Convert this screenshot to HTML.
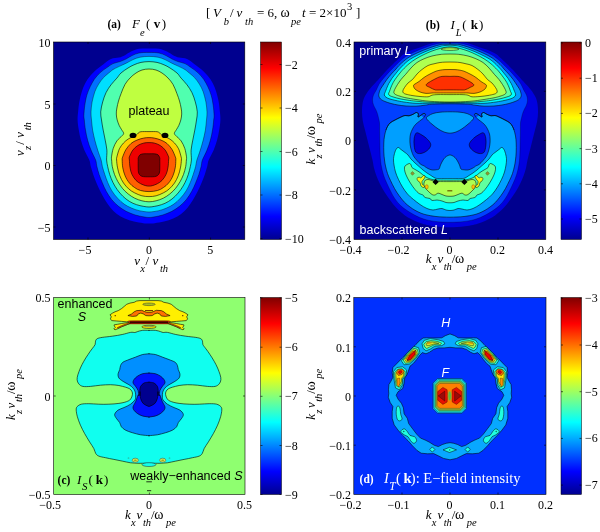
<!DOCTYPE html>
<html><head><meta charset="utf-8"><title>Figure</title>
<style>html,body{margin:0;padding:0;background:#fff}svg{display:block}text{white-space:pre}</style>
</head><body>
<svg width="600" height="532" viewBox="0 0 600 532">
<defs>
<linearGradient id="jet" x1="0" y1="1" x2="0" y2="0">
<stop offset="0" stop-color="#00008F"/>
<stop offset="0.117" stop-color="#0000FF"/>
<stop offset="0.367" stop-color="#00FFFF"/>
<stop offset="0.617" stop-color="#FFFF00"/>
<stop offset="0.867" stop-color="#FF0000"/>
<stop offset="1" stop-color="#800000"/>
</linearGradient>
</defs>
<rect width="600" height="532" fill="#fff"/>
<clipPath id="clipA"><rect x="53.5" y="42" width="191.3" height="197.5"/></clipPath>
<rect x="53.5" y="42" width="191.3" height="197.5" fill="#00008F"/>
<g clip-path="url(#clipA)">
<path d="M149 48.4C145.7 48.4 142 48.3 139 48.8C136 49.3 133.3 50.5 131 51.6C128.7 52.7 127 54.2 125 55.2C123 56.2 121.3 57 119 57.6C116.7 58.2 113.6 57.9 111 59C108.4 60.1 105.9 62.5 103.5 64.2C101.1 66 99.1 67.3 96.8 69.3C94.6 71.2 92.1 73.6 90.1 76C88.2 78.3 86.5 80.8 85.1 83.5C83.7 86.1 82.7 88.8 81.8 91.8C80.8 94.9 79.9 98.5 79.3 101.9C78.7 105.2 78.4 108.9 78.1 111.9C77.8 114.9 77.5 117 77.6 120C77.7 123.1 78.2 126.7 78.8 130.1C79.3 133.4 80 136.8 80.9 140.1C81.9 143.4 82.9 146.8 84.3 150.1C85.7 153.5 88.2 157.3 89.3 160C90.4 162.7 90.2 164.2 90.8 166.6C91.5 169 92.3 171.7 93.2 174.5C94.2 177.2 95.3 180.2 96.5 183C97.7 185.9 99 188.7 100.4 191.6C101.9 194.4 103.4 197.5 105.1 200.1C106.7 202.8 108.3 205.1 110.3 207.4C112.3 209.7 114.5 212.1 116.9 213.9C119.3 215.8 121.9 217.3 124.8 218.6C127.6 219.8 130.9 220.8 134 221.6C137.1 222.3 140.7 222.8 143.2 223.2C145.7 223.5 147.1 223.6 149 223.6C150.9 223.6 152.3 223.5 154.8 223.2C157.3 222.8 160.9 222.3 164 221.6C167.1 220.8 170.4 219.8 173.2 218.6C176.1 217.3 178.7 215.8 181.1 213.9C183.5 212.1 185.7 209.7 187.7 207.4C189.7 205.1 191.3 202.8 192.9 200.1C194.6 197.5 196.1 194.4 197.6 191.6C199 188.7 200.3 185.9 201.5 183C202.7 180.2 203.8 177.2 204.8 174.5C205.7 171.7 206.5 169 207.2 166.6C207.8 164.2 207.6 162.7 208.7 160C209.8 157.3 212.3 153.5 213.7 150.1C215.1 146.8 216.1 143.4 217.1 140.1C218 136.8 218.7 133.4 219.2 130.1C219.8 126.7 220.3 123.1 220.4 120C220.5 117 220.2 114.9 219.9 111.9C219.6 108.9 219.3 105.2 218.7 101.9C218.1 98.5 217.2 94.9 216.2 91.8C215.3 88.8 214.3 86.1 212.9 83.5C211.5 80.8 209.8 78.3 207.9 76C205.9 73.6 203.4 71.2 201.2 69.3C198.9 67.3 196.9 66 194.5 64.2C192.1 62.5 189.6 60.1 187 59C184.4 57.9 181.3 58.2 179 57.6C176.7 57 175 56.2 173 55.2C171 54.2 169.3 52.7 167 51.6C164.7 50.5 162 49.3 159 48.8C156 48.3 152.3 48.4 149 48.4Z" fill="#0000FF"/>
<path d="M149 52.4C145.7 52.4 141.8 52.5 139 53C136.2 53.5 134.2 54.6 132 55.6C129.8 56.6 128 58 126 59C124 60 122.2 60.8 120 61.6C117.8 62.4 115.2 62.6 113 63.6C110.8 64.6 109 66.1 106.9 67.6C104.7 69.1 102.3 70.7 100.2 72.6C98.1 74.6 96 76.9 94.3 79.3C92.6 81.7 91.4 84.2 90.1 86.8C88.9 89.5 87.7 92.1 86.8 95.2C85.9 98.2 85.3 101.9 84.8 105.2C84.3 108.6 84 112.8 83.9 115.3C83.9 117.7 84 117.6 84.3 120C84.5 122.5 84.9 126.7 85.5 130.1C86 133.4 86.7 136.8 87.6 140.1C88.5 143.4 89.6 146.8 91 150.1C92.3 153.5 94.6 157.3 95.6 160C96.6 162.7 96.3 164.2 96.9 166.6C97.5 169 98.2 171.7 99.1 174.5C100.1 177.2 101.2 180.2 102.4 183C103.6 185.9 104.8 188.8 106.4 191.6C107.9 194.3 109.7 197.1 111.6 199.5C113.6 201.9 115.8 204.1 118.2 206.1C120.6 208 123.3 209.8 126.1 211.3C129 212.8 132.5 214.1 135.3 215C138.2 215.9 140.9 216.4 143.2 216.8C145.5 217.3 147.1 217.5 149 217.5C150.9 217.5 152.5 217.3 154.8 216.8C157.1 216.4 159.8 215.9 162.7 215C165.5 214.1 169 212.8 171.9 211.3C174.7 209.8 177.4 208 179.8 206.1C182.2 204.1 184.4 201.9 186.4 199.5C188.3 197.1 190.1 194.3 191.6 191.6C193.2 188.8 194.4 185.9 195.6 183C196.8 180.2 197.9 177.2 198.9 174.5C199.8 171.7 200.5 169 201.1 166.6C201.7 164.2 201.4 162.7 202.4 160C203.4 157.3 205.7 153.5 207 150.1C208.4 146.8 209.5 143.4 210.4 140.1C211.3 136.8 212 133.4 212.5 130.1C213.1 126.7 213.5 122.5 213.7 120C214 117.6 214.1 117.7 214.1 115.3C214 112.8 213.7 108.6 213.2 105.2C212.7 101.9 212.1 98.2 211.2 95.2C210.3 92.1 209.1 89.5 207.9 86.8C206.6 84.2 205.4 81.7 203.7 79.3C202 76.9 199.9 74.6 197.8 72.6C195.7 70.7 193.3 69.1 191.1 67.6C189 66.1 187.2 64.6 185 63.6C182.8 62.6 180.2 62.4 178 61.6C175.8 60.8 174 60 172 59C170 58 168.2 56.6 166 55.6C163.8 54.6 161.8 53.5 159 53C156.2 52.5 152.3 52.4 149 52.4Z" fill="#0070FF" stroke="#000" stroke-width="0.5" stroke-opacity="0.75"/>
<path d="M149 56.4C146 56.4 142.7 56.7 140 57.2C137.3 57.7 135.2 58.7 133 59.6C130.8 60.5 129 61.8 127 62.8C125 63.8 123.2 64.6 121 65.6C118.8 66.6 115.8 68 114 69C112.2 70 111.9 70.3 110.2 71.8C108.5 73.2 105.5 75.5 103.5 77.6C101.6 79.7 99.9 81.9 98.5 84.3C97 86.7 95.9 88.9 94.8 91.8C93.8 94.8 92.8 98.5 92.1 101.9C91.5 105.2 91.1 108.9 91 111.9C90.9 114.9 91.2 117 91.5 120C91.8 123.1 92.1 126.7 92.6 130.1C93.2 133.4 94 136.8 94.8 140.1C95.7 143.4 96.6 146.8 97.7 150.1C98.7 153.5 100.3 157.3 101.1 160C101.9 162.7 101.8 164.2 102.4 166.6C103 169 103.9 171.8 104.8 174.5C105.7 177.1 106.5 179.6 107.7 182.4C108.9 185.1 110.2 188.3 111.9 190.9C113.5 193.6 115.5 196 117.6 198.2C119.6 200.4 121.8 202.4 124.1 204.1C126.4 205.7 128.8 206.9 131.4 208C133.9 209.1 136.3 210 139.3 210.7C142.2 211.3 145.8 212 149 212C152.2 212 155.8 211.3 158.7 210.7C161.7 210 164.1 209.1 166.6 208C169.2 206.9 171.6 205.7 173.9 204.1C176.2 202.4 178.4 200.4 180.4 198.2C182.5 196 184.5 193.6 186.1 190.9C187.8 188.3 189.1 185.1 190.3 182.4C191.5 179.6 192.3 177.1 193.2 174.5C194.1 171.8 195 169 195.6 166.6C196.2 164.2 196.1 162.7 196.9 160C197.7 157.3 199.3 153.5 200.3 150.1C201.4 146.8 202.3 143.4 203.2 140.1C204 136.8 204.8 133.4 205.4 130.1C205.9 126.7 206.2 123.1 206.5 120C206.8 117 207.1 114.9 207 111.9C206.9 108.9 206.5 105.2 205.9 101.9C205.2 98.5 204.2 94.8 203.2 91.8C202.1 88.9 201 86.7 199.5 84.3C198.1 81.9 196.4 79.7 194.5 77.6C192.5 75.5 189.5 73.2 187.8 71.8C186.1 70.3 185.8 70 184 69C182.2 68 179.2 66.6 177 65.6C174.8 64.6 173 63.8 171 62.8C169 61.8 167.2 60.5 165 59.6C162.8 58.7 160.7 57.7 158 57.2C155.3 56.7 152 56.4 149 56.4Z" fill="#00DFFF" stroke="#000" stroke-width="0.5" stroke-opacity="0.75"/>
<path d="M149 61.6C146.3 61.6 143.5 61.9 141 62.4C138.5 62.9 136.2 63.9 134 64.8C131.8 65.7 130.2 66.6 128 68C125.8 69.4 122.9 71.3 121 73C119.1 74.7 118.6 76.2 116.9 78.1C115.2 80.1 112.8 82.4 111 84.8C109.2 87.2 107.4 89.8 106 92.7C104.6 95.5 103.6 98.7 102.7 101.9C101.8 105.1 100.9 108.9 100.7 111.9C100.5 114.9 101.1 117 101.5 120C101.9 123.1 102.6 126.7 103.2 130.1C103.8 133.4 104.6 136.8 105.2 140.1C105.8 143.4 106.6 146.8 106.9 150.1C107.1 153.5 106.5 157.3 106.6 160C106.8 162.7 107.2 164.2 107.7 166.6C108.2 169 108.8 171.8 109.7 174.5C110.5 177.1 111.7 179.8 112.9 182.4C114.2 184.9 115.5 187.3 117.2 189.6C118.8 191.9 120.8 194.2 122.8 196.2C124.9 198.2 127.1 200 129.4 201.4C131.7 202.9 134.3 203.9 136.6 204.7C138.9 205.5 141.1 205.9 143.2 206.3C145.3 206.7 147.1 207 149 207C150.9 207 152.7 206.7 154.8 206.3C156.9 205.9 159.1 205.5 161.4 204.7C163.7 203.9 166.3 202.9 168.6 201.4C170.9 200 173.1 198.2 175.2 196.2C177.2 194.2 179.2 191.9 180.8 189.6C182.5 187.3 183.8 184.9 185.1 182.4C186.3 179.8 187.5 177.1 188.3 174.5C189.2 171.8 189.8 169 190.3 166.6C190.8 164.2 191.2 162.7 191.4 160C191.5 157.3 190.9 153.5 191.1 150.1C191.4 146.8 192.2 143.4 192.8 140.1C193.4 136.8 194.2 133.4 194.8 130.1C195.4 126.7 196.1 123.1 196.5 120C196.9 117 197.5 114.9 197.3 111.9C197.1 108.9 196.2 105.1 195.3 101.9C194.4 98.7 193.4 95.5 192 92.7C190.6 89.8 188.8 87.2 187 84.8C185.2 82.4 182.8 80.1 181.1 78.1C179.4 76.2 178.9 74.7 177 73C175.1 71.3 172.2 69.4 170 68C167.8 66.6 166.2 65.7 164 64.8C161.8 63.9 159.5 62.9 157 62.4C154.5 61.9 151.7 61.6 149 61.6Z" fill="#50FFAF" stroke="#000" stroke-width="0.6"/>
<path d="M149 69C146.7 69 144.2 69.3 142 70C139.8 70.7 138 71.7 136 73C134 74.3 131.8 76.1 130 78C128.2 79.9 126.5 81.8 125 84.4C123.5 87 122.2 90.7 121.1 93.5C120 96.3 119.2 98.6 118.5 101C117.8 103.4 117.3 105.8 116.9 108C116.5 110.2 116.2 112 116.3 114C116.3 116 116.7 118.1 117.2 120C117.7 121.9 118.5 123.9 119.2 125.5C119.9 127.1 120.8 128.2 121.5 129.5C122.2 130.8 123.5 132.1 123.6 133.1C123.7 134.1 123.4 134.3 122.2 135.6C121.1 136.9 118.4 138.8 116.9 140.9C115.4 143.1 114.1 145.8 113.2 148.5C112.3 151.1 111.8 154.9 111.5 156.8C111.3 158.7 111.5 158.4 111.6 160C111.8 161.6 111.8 164.2 112.3 166.6C112.8 169 113.6 172 114.5 174.5C115.5 177 116.6 179.4 117.9 181.7C119.3 184 120.7 186.2 122.4 188.3C124.1 190.3 126 192.3 128.1 193.9C130.1 195.6 132.4 197 134.7 198.2C137 199.3 139.5 200.2 141.9 200.8C144.3 201.4 146.6 201.8 149 201.8C151.4 201.8 153.7 201.4 156.1 200.8C158.5 200.2 161 199.3 163.3 198.2C165.6 197 167.9 195.6 169.9 193.9C172 192.3 173.9 190.3 175.6 188.3C177.3 186.2 178.7 184 180.1 181.7C181.4 179.4 182.5 177 183.5 174.5C184.4 172 185.2 169 185.7 166.6C186.2 164.2 186.2 161.6 186.4 160C186.5 158.4 186.7 158.7 186.5 156.8C186.2 154.9 185.7 151.1 184.8 148.5C183.9 145.8 182.6 143.1 181.1 140.9C179.6 138.8 176.9 136.9 175.8 135.6C174.6 134.3 174.3 134.1 174.4 133.1C174.5 132.1 175.8 130.8 176.5 129.5C177.2 128.2 178.1 127.1 178.8 125.5C179.5 123.9 180.3 121.9 180.8 120C181.3 118.1 181.6 116 181.7 114C181.8 112 181.5 110.2 181.1 108C180.7 105.8 180.2 103.4 179.5 101C178.8 98.6 178 96.3 176.9 93.5C175.8 90.7 174.5 87 173 84.4C171.5 81.8 169.8 79.9 168 78C166.2 76.1 164 74.3 162 73C160 71.7 158.2 70.7 156 70C153.8 69.3 151.3 69 149 69Z" fill="#BFFF40" stroke="#000" stroke-width="0.6"/>
<path d="M149 131.6C146.3 131.6 142.7 131.5 141 131.7C139.2 132 139.4 132.3 138.5 132.9C137.6 133.5 137.3 134.4 135.6 135.4C134 136.4 130.6 137.5 128.6 138.8C126.6 140 125.1 141.3 123.6 142.9C122 144.6 120.5 146.5 119.4 148.8C118.3 151.1 117.4 155 116.9 156.8C116.4 158.7 116.5 158.2 116.6 160C116.7 161.8 117 165.3 117.6 167.9C118.1 170.5 118.8 173.3 119.8 175.8C120.8 178.3 122 180.8 123.5 183C125 185.2 126.9 187.3 128.7 188.9C130.6 190.6 132.5 191.8 134.7 192.9C136.9 194 139.5 195.2 141.9 195.8C144.3 196.4 146.6 196.6 149 196.6C151.4 196.6 153.7 196.4 156.1 195.8C158.5 195.2 161.1 194 163.3 192.9C165.5 191.8 167.4 190.6 169.3 188.9C171.1 187.3 173 185.2 174.5 183C176 180.8 177.2 178.3 178.2 175.8C179.2 173.3 179.9 170.5 180.4 167.9C181 165.3 181.3 161.8 181.4 160C181.5 158.2 181.6 158.7 181.1 156.8C180.6 155 179.7 151.1 178.6 148.8C177.5 146.5 176 144.6 174.4 142.9C172.9 141.3 171.4 140 169.4 138.8C167.4 137.5 164 136.4 162.4 135.4C160.7 134.4 160.4 133.5 159.5 132.9C158.6 132.3 158.8 132 157 131.7C155.3 131.5 151.7 131.6 149 131.6Z" fill="#FFCF00" stroke="#000" stroke-width="0.6"/>
<path d="M149 137.6C147.2 137.6 145.7 137.7 143.6 138.1C141.6 138.5 139 139.2 137 140.1C134.9 141 132.9 141.9 131.1 143.4C129.3 145 127.5 147.1 126.1 149.3C124.7 151.5 123.4 155 122.7 156.8C122.1 158.6 122.1 158.2 122.2 160C122.2 161.8 122.3 165.3 122.8 167.9C123.3 170.5 124 173.3 125.1 175.8C126.1 178.3 127.8 181.1 129.4 183C131 185 132.8 186.4 134.7 187.6C136.5 188.9 138.2 189.9 140.6 190.5C143 191.2 146.2 191.6 149 191.6C151.8 191.6 155 191.2 157.4 190.5C159.8 189.9 161.5 188.9 163.3 187.6C165.2 186.4 167 185 168.6 183C170.2 181.1 171.9 178.3 172.9 175.8C174 173.3 174.7 170.5 175.2 167.9C175.7 165.3 175.8 161.8 175.8 160C175.9 158.2 175.9 158.6 175.3 156.8C174.6 155 173.3 151.5 171.9 149.3C170.5 147.1 168.7 145 166.9 143.4C165.1 141.9 163.1 141 161 140.1C159 139.2 156.4 138.5 154.4 138.1C152.3 137.7 150.8 137.6 149 137.6Z" fill="#FF6000" stroke="#000" stroke-width="0.6"/>
<path d="M149 142.6C147.2 142.6 145.5 142.6 143.6 143.1C141.8 143.6 139.6 144.3 137.8 145.5C136 146.6 134.2 148.2 132.8 150.1C131.4 152 130 155.2 129.4 156.8C128.9 158.5 129.3 158.2 129.4 160C129.5 161.8 129.6 165.5 130.1 167.9C130.5 170.3 131 172.4 132 174.5C133 176.6 134.5 178.9 136 180.4C137.4 181.9 138.9 182.8 140.6 183.7C142.2 184.6 144.4 185.3 145.8 185.7C147.2 186.1 147.9 186.1 149 186.1C150.1 186.1 150.8 186.1 152.2 185.7C153.6 185.3 155.8 184.6 157.4 183.7C159.1 182.8 160.6 181.9 162 180.4C163.5 178.9 165 176.6 166 174.5C167 172.4 167.5 170.3 167.9 167.9C168.4 165.5 168.5 161.8 168.6 160C168.7 158.2 169.1 158.5 168.6 156.8C168 155.2 166.6 152 165.2 150.1C163.8 148.2 162 146.6 160.2 145.5C158.4 144.3 156.2 143.6 154.4 143.1C152.5 142.6 150.8 142.6 149 142.6Z" fill="#EF0000" stroke="#000" stroke-width="0.6"/>
<path d="M149 153.8C147.2 153.8 145.2 153.6 143.6 153.8C142.1 154 140.9 154.2 140 154.8C139.1 155.5 138.6 156.8 138.3 157.7C138 158.5 138.2 158.3 138.2 160C138.2 161.7 138.1 165.7 138.2 167.9C138.3 170.1 138.1 171.8 138.7 173.2C139.4 174.6 140.2 175.7 141.9 176.3C143.6 176.9 146.6 176.8 149 176.8C151.4 176.8 154.4 176.9 156.1 176.3C157.8 175.7 158.6 174.6 159.3 173.2C159.9 171.8 159.7 170.1 159.8 167.9C159.9 165.7 159.8 161.7 159.8 160C159.8 158.3 160 158.5 159.7 157.7C159.4 156.8 158.9 155.5 158 154.8C157.1 154.2 155.9 154 154.4 153.8C152.8 153.6 150.8 153.8 149 153.8Z" fill="#800000" stroke="#000" stroke-width="0.6"/>
<ellipse cx="133" cy="135.4" rx="3.4" ry="2.6" fill="#000"/>
<ellipse cx="165" cy="135.4" rx="3.4" ry="2.6" fill="#000"/>
</g>
<text x="149" y="115" font-size="12.5" font-family="'Liberation Sans',Arial,sans-serif" text-anchor="middle">plateau</text>
<rect x="53.5" y="42" width="191.3" height="197.5" fill="none" stroke="#000" stroke-width="0.6"/>
<path d="M88 239.5v-2 M88 42v2M149.3 239.5v-2 M149.3 42v2M210.6 239.5v-2 M210.6 42v2M53.5 104h2 M244.8 104h-2M53.5 165.5h2 M244.8 165.5h-2M53.5 227h2 M244.8 227h-2" stroke="#000" stroke-width="0.6" fill="none"/>
<text x="50.6" y="46.8" font-size="12" font-family="'Liberation Serif','Times New Roman',serif" text-anchor="end">10</text>
<text x="50.6" y="108.8" font-size="12" font-family="'Liberation Serif','Times New Roman',serif" text-anchor="end">5</text>
<text x="50.6" y="170.3" font-size="12" font-family="'Liberation Serif','Times New Roman',serif" text-anchor="end">0</text>
<text x="50.6" y="231.8" font-size="12" font-family="'Liberation Serif','Times New Roman',serif" text-anchor="end">−5</text>
<text x="85" y="253.8" font-size="12" font-family="'Liberation Serif','Times New Roman',serif" text-anchor="middle">−5</text>
<text x="149" y="253.8" font-size="12" font-family="'Liberation Serif','Times New Roman',serif" text-anchor="middle">0</text>
<text x="210.3" y="253.8" font-size="12" font-family="'Liberation Serif','Times New Roman',serif" text-anchor="middle">5</text>
<rect x="260.5" y="42" width="21" height="197.5" fill="url(#jet)" stroke="#000" stroke-width="0.5"/>
<text x="285" y="68.5" font-size="12" font-family="'Liberation Serif','Times New Roman',serif">−2</text>
<text x="285" y="112" font-size="12" font-family="'Liberation Serif','Times New Roman',serif">−4</text>
<text x="285" y="155.5" font-size="12" font-family="'Liberation Serif','Times New Roman',serif">−6</text>
<text x="285" y="199" font-size="12" font-family="'Liberation Serif','Times New Roman',serif">−8</text>
<text x="285" y="242.5" font-size="12" font-family="'Liberation Serif','Times New Roman',serif">−10</text>
<path d="M260.5 64.5h2 M281.5 64.5h-2M260.5 108h2 M281.5 108h-2M260.5 151.5h2 M281.5 151.5h-2M260.5 195h2 M281.5 195h-2M260.5 238.5h2 M281.5 238.5h-2" stroke="#000" stroke-width="0.6" fill="none"/>
<text x="107.5" y="28" font-size="11.5" font-family="'Liberation Serif','Times New Roman',serif" font-weight="bold">(a)</text>
<text x="132" y="28" font-size="13" font-family="'Liberation Serif','Times New Roman',serif" font-style="italic">F</text>
<text x="140" y="35.8" font-size="10.5" font-family="'Liberation Serif','Times New Roman',serif" font-style="italic">e</text>
<text x="146" y="28" font-size="13" font-family="'Liberation Serif','Times New Roman',serif">(</text>
<text x="153.8" y="28" font-size="13" font-family="'Liberation Serif','Times New Roman',serif" font-weight="bold">v</text>
<text x="161.8" y="28" font-size="13" font-family="'Liberation Serif','Times New Roman',serif">)</text>
<text x="206" y="17" font-size="13" font-family="'Liberation Serif','Times New Roman',serif">[</text>
<text x="213" y="17" font-size="13" font-family="'Liberation Serif','Times New Roman',serif" font-style="italic">V</text>
<text x="223.8" y="25" font-size="10.5" font-family="'Liberation Serif','Times New Roman',serif" font-style="italic">b</text>
<text x="230" y="17" font-size="13" font-family="'Liberation Serif','Times New Roman',serif">/</text>
<text x="236.5" y="17" font-size="13" font-family="'Liberation Serif','Times New Roman',serif" font-style="italic">v</text>
<text x="245" y="25" font-size="10.5" font-family="'Liberation Serif','Times New Roman',serif" font-style="italic">th</text>
<text x="257" y="17" font-size="13" font-family="'Liberation Serif','Times New Roman',serif">= 6,</text>
<text x="280.5" y="17" font-size="14" font-family="'Liberation Serif','Times New Roman',serif">ω</text>
<text x="291" y="25" font-size="10.5" font-family="'Liberation Serif','Times New Roman',serif" font-style="italic">pe</text>
<text x="302" y="17" font-size="13" font-family="'Liberation Serif','Times New Roman',serif" font-style="italic">t</text>
<text x="309" y="17" font-size="13" font-family="'Liberation Serif','Times New Roman',serif">= 2×10</text>
<text x="347" y="10.3" font-size="10.5" font-family="'Liberation Serif','Times New Roman',serif">3</text>
<text x="356" y="17" font-size="13" font-family="'Liberation Serif','Times New Roman',serif">]</text>
<text x="134.2" y="264.7" font-size="13" font-family="'Liberation Serif','Times New Roman',serif" font-style="italic">v</text>
<text x="140.3" y="272.2" font-size="10.5" font-family="'Liberation Serif','Times New Roman',serif" font-style="italic">x</text>
<text x="145.4" y="264.7" font-size="13" font-family="'Liberation Serif','Times New Roman',serif">/</text>
<text x="152.4" y="264.7" font-size="13" font-family="'Liberation Serif','Times New Roman',serif" font-style="italic">v</text>
<text x="159.9" y="272.2" font-size="10.5" font-family="'Liberation Serif','Times New Roman',serif" font-style="italic">th</text>
<g transform="translate(23.7,156) rotate(-90)">
<text x="0" y="0" font-size="13" font-family="'Liberation Serif','Times New Roman',serif" font-style="italic">v</text>
<text x="6.1" y="7.5" font-size="10.5" font-family="'Liberation Serif','Times New Roman',serif" font-style="italic">z</text>
<text x="11.2" y="0" font-size="13" font-family="'Liberation Serif','Times New Roman',serif">/</text>
<text x="18.2" y="0" font-size="13" font-family="'Liberation Serif','Times New Roman',serif" font-style="italic">v</text>
<text x="25.7" y="7.5" font-size="10.5" font-family="'Liberation Serif','Times New Roman',serif" font-style="italic">th</text>
</g>
<clipPath id="clipB"><rect x="354" y="42" width="191.8" height="197.5"/></clipPath>
<rect x="354" y="42" width="191.8" height="197.5" fill="#00008F"/>
<g clip-path="url(#clipB)">
<path d="M450 40C447.7 40 445.3 40.3 443 40.6C440.7 40.9 438.5 41.4 436 42C433.5 42.6 430.7 43.6 428 44.5C425.3 45.4 422.7 46.6 420 47.5C417.3 48.4 414.7 48.9 412 50C409.3 51.1 406 52.8 404 54C402 55.2 401.8 55.9 400 57.5C398.2 59.1 395.5 61.6 393.3 63.7C391.1 65.8 388.9 68 386.7 70.3C384.5 72.6 382.2 75.2 380 77.7C377.8 80.2 375.1 83 373.3 85C371.5 87 370.5 88 369 90C367.5 92 365.6 94.7 364.5 97C363.4 99.3 362.9 101.5 362.5 104C362.1 106.5 361.9 109.2 362 112C362.1 114.8 362.3 118 362.8 121C363.3 124 364.2 126.8 365 130C365.8 133.2 366.7 136.7 367.5 140C368.3 143.3 369.2 146.7 370 150C370.8 153.3 371.8 157 372.5 160C373.2 163 373.3 165.3 374 168C374.7 170.7 375.5 173.3 376.5 176C377.5 178.7 378.7 181.3 380 184C381.3 186.7 382.8 189.3 384.5 192C386.2 194.7 388.1 197.4 390 200C391.9 202.6 394 205.3 396 207.5C398 209.7 400 211.3 402 213C404 214.7 405.8 216.2 408 217.5C410.2 218.8 412.8 220 415 221C417.2 222 419 222.6 421 223.3C423 224 424.7 224.5 427 225C429.3 225.5 432.3 226 435 226.3C437.7 226.6 440.5 226.8 443 227C445.5 227.2 447.7 227.2 450 227.2C452.3 227.2 454.5 227.2 457 227C459.5 226.8 462.3 226.6 465 226.3C467.7 226 470.7 225.5 473 225C475.3 224.5 477 224 479 223.3C481 222.6 482.8 222 485 221C487.2 220 489.8 218.8 492 217.5C494.2 216.2 496 214.7 498 213C500 211.3 502 209.7 504 207.5C506 205.3 508.1 202.6 510 200C511.9 197.4 513.8 194.7 515.5 192C517.2 189.3 518.7 186.7 520 184C521.3 181.3 522.5 178.7 523.5 176C524.5 173.3 525.3 170.7 526 168C526.7 165.3 526.8 163 527.5 160C528.2 157 529.2 153.3 530 150C530.8 146.7 531.7 143.3 532.5 140C533.3 136.7 534.2 133.2 535 130C535.8 126.8 536.7 124 537.2 121C537.7 118 538 114.8 538 112C538 109.2 537.9 106.5 537.5 104C537.1 101.5 536.6 99.3 535.5 97C534.4 94.7 532.5 92 531 90C529.5 88 528.5 87 526.7 85C524.9 83 522.2 80.2 520 77.7C517.8 75.2 515.5 72.6 513.3 70.3C511.1 68 508.9 65.8 506.7 63.7C504.5 61.6 501.8 59.1 500 57.5C498.2 55.9 498 55.2 496 54C494 52.8 490.7 51.1 488 50C485.3 48.9 482.7 48.4 480 47.5C477.3 46.6 474.7 45.4 472 44.5C469.3 43.6 466.5 42.6 464 42C461.5 41.4 459.3 40.9 457 40.6C454.7 40.3 452.3 40 450 40Z" fill="#0000DF"/>
<path d="M450 43C448.3 43 446.7 43 445 43C443.3 43 442.2 43 440 43.3C437.8 43.6 434.7 44.2 432 45C429.3 45.8 426.7 47 424 48C421.3 49 418.7 50 416 51.2C413.3 52.4 410.7 53.4 408 55C405.3 56.6 402.2 59.1 400 61C397.8 62.9 396.5 64.5 394.7 66.3C392.9 68.1 391.1 69.8 389.3 71.7C387.5 73.6 385.7 75.7 384 77.7C382.3 79.7 380.6 81.6 379.3 83.7C378 85.8 377 88.6 376 90.5C375 92.4 374.1 93.4 373.5 95C372.9 96.6 372.5 98.3 372.5 100C372.5 101.7 372.9 103.3 373.5 105C374.1 106.7 375.3 108.5 376 110C376.7 111.5 377.1 112.7 377.5 114C377.9 115.3 378.2 116.5 378.5 118C378.8 119.5 379.3 120.8 379.5 123C379.7 125.2 379.6 128.2 379.6 131C379.7 133.8 379.7 136.8 379.8 140C379.9 143.2 379.9 146.7 380 150C380.1 153.3 380.2 157.2 380.5 160C380.8 162.8 381 164.5 381.5 167C382 169.5 382.7 172.4 383.5 175C384.3 177.6 385.3 179.8 386.5 182.5C387.7 185.2 389.1 188.2 390.5 191C391.9 193.8 393.3 196.6 395 199C396.7 201.4 398.5 203.6 400.5 205.5C402.5 207.4 404.6 208.9 407 210.5C409.4 212.1 412.7 214.1 415 215.3C417.3 216.6 419 217.2 421 218C423 218.8 424.7 219.4 427 220C429.3 220.6 432.3 221.1 435 221.4C437.7 221.8 440.5 221.9 443 222.1C445.5 222.2 447.7 222.3 450 222.3C452.3 222.3 454.5 222.2 457 222.1C459.5 221.9 462.3 221.8 465 221.4C467.7 221.1 470.7 220.6 473 220C475.3 219.4 477 218.8 479 218C481 217.2 482.7 216.6 485 215.3C487.3 214.1 490.6 212.1 493 210.5C495.4 208.9 497.5 207.4 499.5 205.5C501.5 203.6 503.3 201.4 505 199C506.7 196.6 508.1 193.8 509.5 191C510.9 188.2 512.3 185.2 513.5 182.5C514.7 179.8 515.7 177.6 516.5 175C517.3 172.4 518 169.5 518.5 167C519 164.5 519.2 162.8 519.5 160C519.8 157.2 519.9 153.3 520 150C520.1 146.7 520.1 143.2 520.2 140C520.3 136.8 520.4 133.8 520.4 131C520.4 128.2 520.3 125.2 520.5 123C520.7 120.8 521.2 119.5 521.5 118C521.8 116.5 522.1 115.3 522.5 114C522.9 112.7 523.3 111.5 524 110C524.7 108.5 525.9 106.7 526.5 105C527.1 103.3 527.5 101.7 527.5 100C527.5 98.3 527.1 96.6 526.5 95C525.9 93.4 525 92.4 524 90.5C523 88.6 522 85.8 520.7 83.7C519.4 81.6 517.7 79.7 516 77.7C514.3 75.7 512.5 73.6 510.7 71.7C508.9 69.8 507.1 68.1 505.3 66.3C503.5 64.5 502.2 62.9 500 61C497.8 59.1 494.7 56.6 492 55C489.3 53.4 486.7 52.4 484 51.2C481.3 50 478.7 49 476 48C473.3 47 470.7 45.8 468 45C465.3 44.2 462.2 43.6 460 43.3C457.8 43 456.7 43 455 43C453.3 43 451.7 43 450 43Z" fill="#0040FF" stroke="#000" stroke-width="0.5" stroke-opacity="0.5"/>
<path d="M450 44.2C448.3 44.2 446.7 44.2 445 44.3C443.3 44.4 442.2 44.2 440 44.7C437.8 45.2 434.7 46.1 432 47C429.3 47.9 426.7 48.9 424 50C421.3 51.1 418.7 52.2 416 53.5C413.3 54.8 410.7 56 408 57.8C405.3 59.6 402 62.6 400 64.5C398 66.4 397.4 67.4 396 69C394.6 70.6 392.9 72.2 391.3 74C389.8 75.8 388.1 77.8 386.7 79.7C385.3 81.7 383.8 84 382.7 85.7C381.6 87.4 380.6 88.7 380 90C379.4 91.3 379.2 92.5 379 93.5C378.8 94.5 378.6 95.1 378.8 96C379.1 96.9 379.5 98.1 380.5 99C381.5 99.9 383.2 100.8 385 101.5C386.8 102.2 388.8 102.9 391 103.5C393.2 104.1 395.5 104.6 398 105C400.5 105.4 403 105.8 406 106C409 106.2 412.8 106.3 416 106.2C419.2 106.1 422.3 105.5 425 105.2C427.7 104.9 427.8 104.4 432 104.2C436.2 104 444 103.8 450 103.8C456 103.8 463.8 104 468 104.2C472.2 104.4 472.3 104.9 475 105.2C477.7 105.5 480.8 106.1 484 106.2C487.2 106.3 491 106.2 494 106C497 105.8 499.5 105.4 502 105C504.5 104.6 506.8 104.1 509 103.5C511.2 102.9 513.2 102.2 515 101.5C516.8 100.8 518.5 99.9 519.5 99C520.5 98.1 521 96.9 521.2 96C521.5 95.1 521.2 94.5 521 93.5C520.8 92.5 520.6 91.3 520 90C519.4 88.7 518.4 87.4 517.3 85.7C516.2 84 514.7 81.7 513.3 79.7C511.9 77.8 510.2 75.8 508.7 74C507.1 72.2 505.4 70.6 504 69C502.6 67.4 502 66.4 500 64.5C498 62.6 494.7 59.6 492 57.8C489.3 56 486.7 54.8 484 53.5C481.3 52.2 478.7 51.1 476 50C473.3 48.9 470.7 47.9 468 47C465.3 46.1 462.2 45.2 460 44.7C457.8 44.2 456.7 44.4 455 44.3C453.3 44.2 451.7 44.2 450 44.2Z" fill="#009FFF" stroke="#000" stroke-width="0.55"/>
<path d="M450 45.2C448.3 45.2 446.7 45.3 445 45.5C443.3 45.7 442.2 45.9 440 46.5C437.8 47.1 434.7 48 432 49C429.3 50 426.7 51 424 52.2C421.3 53.4 418.7 54.6 416 56C413.3 57.4 410.7 58.7 408 60.8C405.3 62.9 402 66.4 400 68.5C398 70.6 397.3 71.7 396 73.3C394.7 74.9 393.2 76.6 392 78.3C390.8 80 389.7 81.8 388.7 83.7C387.7 85.7 386.6 88.5 386 90C385.4 91.5 385.3 91.7 385 92.5C384.7 93.3 384.1 94.2 384.3 95C384.5 95.8 385.1 96.5 386 97.2C386.9 97.9 388.3 98.5 390 99C391.7 99.5 393.7 100 396 100.5C398.3 101 400.7 101.5 404 102C407.3 102.5 411.7 103.1 416 103.3C420.3 103.5 424.3 103.2 430 103.2C435.7 103.2 443.3 103 450 103C456.7 103 464.3 103.2 470 103.2C475.7 103.2 479.7 103.5 484 103.3C488.3 103.1 492.7 102.5 496 102C499.3 101.5 501.7 101 504 100.5C506.3 100 508.3 99.5 510 99C511.7 98.5 513 97.9 514 97.2C515 96.5 515.5 95.8 515.7 95C515.9 94.2 515.3 93.3 515 92.5C514.7 91.7 514.6 91.5 514 90C513.4 88.5 512.3 85.7 511.3 83.7C510.3 81.8 509.2 80 508 78.3C506.8 76.6 505.3 74.9 504 73.3C502.7 71.7 502 70.6 500 68.5C498 66.4 494.7 62.9 492 60.8C489.3 58.7 486.7 57.4 484 56C481.3 54.6 478.7 53.4 476 52.2C473.3 51 470.7 50 468 49C465.3 48 462.2 47.1 460 46.5C457.8 45.9 456.7 45.7 455 45.5C453.3 45.3 451.7 45.2 450 45.2Z" fill="#00FFFF" stroke="#000" stroke-width="0.55"/>
<path d="M450 46.8C448.3 46.8 446.7 47 445 47.3C443.3 47.6 442.2 47.9 440 48.5C437.8 49.1 434.7 50 432 51C429.3 52 426.7 53.2 424 54.5C421.3 55.8 418.5 57.2 416 58.8C413.5 60.3 411.2 62 409 63.8C406.8 65.6 404.5 68 403 69.5C401.5 71 401.1 71.7 400 73C398.9 74.3 397.8 75.8 396.7 77.3C395.6 78.8 394.3 80.5 393.3 82.3C392.3 84.1 391.3 86.5 390.7 88C390.1 89.5 389.9 90.5 389.5 91.5C389.1 92.5 388.4 93.3 388.5 94C388.6 94.7 389.1 95.3 390 95.8C390.9 96.3 392.3 96.7 394 97.2C395.7 97.7 397.7 98.3 400 98.8C402.3 99.3 405.3 99.8 408 100.2C410.7 100.6 412.3 100.9 416 101.2C419.7 101.5 424.3 102.1 430 102.3C435.7 102.5 443.3 102.5 450 102.5C456.7 102.5 464.3 102.5 470 102.3C475.7 102.1 480.3 101.5 484 101.2C487.7 100.9 489.3 100.6 492 100.2C494.7 99.8 497.7 99.3 500 98.8C502.3 98.3 504.3 97.7 506 97.2C507.7 96.7 509.1 96.3 510 95.8C510.9 95.3 511.4 94.7 511.5 94C511.6 93.3 510.9 92.5 510.5 91.5C510.1 90.5 509.9 89.5 509.3 88C508.7 86.5 507.7 84.1 506.7 82.3C505.7 80.5 504.4 78.8 503.3 77.3C502.2 75.8 501.1 74.3 500 73C498.9 71.7 498.5 71 497 69.5C495.5 68 493.2 65.6 491 63.8C488.8 62 486.5 60.3 484 58.8C481.5 57.2 478.7 55.8 476 54.5C473.3 53.2 470.7 52 468 51C465.3 50 462.2 49.1 460 48.5C457.8 47.9 456.7 47.6 455 47.3C453.3 47 451.7 46.8 450 46.8Z" fill="#60FF9F" stroke="#000" stroke-width="0.55"/>
<path d="M450 54C448.3 54 446.7 54 445 54.1C443.3 54.2 442.2 54.2 440 54.5C437.8 54.8 434.7 55.3 432 56C429.3 56.7 426.5 57.7 424 58.8C421.5 59.9 419.2 61 417 62.5C414.8 64 412.9 66 411 68C409.1 70 407.2 72.6 405.5 74.5C403.8 76.4 402.3 77.8 401 79.5C399.7 81.2 398.6 82.8 397.5 84.5C396.4 86.2 395.3 88.2 394.7 89.5C394.1 90.8 393.7 91.7 393.8 92.5C393.9 93.3 394.5 93.9 395.5 94.5C396.5 95.1 398.2 95.7 400 96.2C401.8 96.8 403.3 97.2 406 97.8C408.7 98.3 412 98.9 416 99.5C420 100.1 424.3 100.9 430 101.3C435.7 101.7 443.3 102 450 102C456.7 102 464.3 101.7 470 101.3C475.7 100.9 480 100.1 484 99.5C488 98.9 491.3 98.3 494 97.8C496.7 97.2 498.2 96.8 500 96.2C501.8 95.7 503.5 95.1 504.5 94.5C505.5 93.9 506.1 93.3 506.2 92.5C506.3 91.7 505.9 90.8 505.3 89.5C504.7 88.2 503.6 86.2 502.5 84.5C501.4 82.8 500.3 81.2 499 79.5C497.7 77.8 496.2 76.4 494.5 74.5C492.8 72.6 490.9 70 489 68C487.1 66 485.2 64 483 62.5C480.8 61 478.5 59.9 476 58.8C473.5 57.7 470.7 56.7 468 56C465.3 55.3 462.2 54.8 460 54.5C457.8 54.2 456.7 54.2 455 54.1C453.3 54 451.7 54 450 54Z" fill="#AFFF50" stroke="#000" stroke-width="0.55"/>
<path d="M450 62C448.3 62 446.7 62 445 62.1C443.3 62.2 441.8 62.2 440 62.5C438.2 62.8 436 63.3 434 63.8C432 64.3 430 64.5 428 65.5C426 66.5 423.8 68.1 422 69.5C420.2 70.9 418.6 72.3 417 74C415.4 75.7 414 78 412.5 79.5C411 81 409.3 81.7 408 83C406.7 84.3 405.4 86.2 404.5 87.5C403.6 88.8 403 90.1 402.8 91C402.6 91.9 403 92.5 403.5 93C404 93.5 404.6 93.8 406 94.2C407.4 94.6 409.7 95.1 412 95.5C414.3 95.9 417.3 96.3 420 96.5C422.7 96.7 426 97 428 96.8C430 96.6 430.3 95.6 432 95.2C433.7 94.8 435 94.7 438 94.6C441 94.5 446 94.6 450 94.6C454 94.6 459 94.5 462 94.6C465 94.7 466.3 94.8 468 95.2C469.7 95.6 470 96.6 472 96.8C474 97 477.3 96.7 480 96.5C482.7 96.3 485.7 95.9 488 95.5C490.3 95.1 492.6 94.6 494 94.2C495.4 93.8 496 93.5 496.5 93C497 92.5 497.4 91.9 497.2 91C497 90.1 496.4 88.8 495.5 87.5C494.6 86.2 493.3 84.3 492 83C490.7 81.7 489 81 487.5 79.5C486 78 484.6 75.7 483 74C481.4 72.3 479.8 70.9 478 69.5C476.2 68.1 474 66.5 472 65.5C470 64.5 468 64.3 466 63.8C464 63.3 461.8 62.8 460 62.5C458.2 62.2 456.7 62.2 455 62.1C453.3 62 451.7 62 450 62Z" fill="#FFEF00" stroke="#000" stroke-width="0.55"/>
<path d="M450 69.5C448.3 69.5 446.7 69.5 445 69.6C443.3 69.7 441.5 69.9 440 70.2C438.5 70.5 437.7 70.6 436 71.2C434.3 71.8 432 73 430 74C428 75 425.8 76.2 424 77.5C422.2 78.8 420.5 80.4 419 81.5C417.5 82.6 415.9 83.3 415 84C414.1 84.7 413.5 84.7 413.5 85.5C413.5 86.3 413.9 87.9 415 89C416.1 90.1 418.2 91.3 420 92C421.8 92.7 424 93.2 426 93.4C428 93.6 430 93.1 432 93C434 92.9 435 93 438 93C441 93 446 93 450 93C454 93 459 93 462 93C465 93 466 92.9 468 93C470 93.1 472 93.6 474 93.4C476 93.2 478.2 92.7 480 92C481.8 91.3 483.9 90.1 485 89C486.1 87.9 486.5 86.3 486.5 85.5C486.5 84.7 485.9 84.7 485 84C484.1 83.3 482.5 82.6 481 81.5C479.5 80.4 477.8 78.8 476 77.5C474.2 76.2 472 75 470 74C468 73 465.7 71.8 464 71.2C462.3 70.6 461.5 70.5 460 70.2C458.5 69.9 456.7 69.7 455 69.6C453.3 69.5 451.7 69.5 450 69.5Z" fill="#FF8F00" stroke="#000" stroke-width="0.55"/>
<path d="M450 76.4C447.3 76.4 444.4 76 442 76.4C439.6 76.8 438.4 77.2 435.8 78.6C433.1 79.9 427.3 83 426.3 84.5C425.3 86 428.6 86.6 430 87.5C431.4 88.4 433.7 89.4 435 89.8C436.3 90.2 435.5 90 438 90C440.5 90 446 89.9 450 89.9C454 89.9 459.5 90 462 90C464.5 90 463.7 90.2 465 89.8C466.3 89.4 468.6 88.4 470 87.5C471.4 86.6 474.7 86 473.7 84.5C472.7 83 466.9 79.9 464.2 78.6C461.6 77.2 460.4 76.8 458 76.4C455.6 76 452.7 76.4 450 76.4Z" fill="#FF3000" stroke="#000" stroke-width="0.55"/>
<ellipse cx="450" cy="49.1" rx="9" ry="1.3" fill="#AFFF50" stroke="#000" stroke-width="0.5"/>
<path d="M450 125C443.3 125 434.1 119.8 430 118C425.9 116.2 426.7 115.2 425.7 114.5C424.7 113.8 424.8 113.4 424 113.5C423.2 113.6 422 114.6 421 115.2C420 115.8 418.4 117.2 418 117C417.6 116.8 418.6 114.8 418.4 114C418.1 113.2 417.4 112.5 416.5 112.5C415.6 112.5 414.2 113.8 413 114.3C411.8 114.8 410.3 115.6 409 115.8C407.7 116 406.3 115.3 405 115.5C403.7 115.7 402.7 116.2 401 117C399.3 117.8 396.8 119 395 120C393.2 121 391.2 121.9 390 123C388.8 124.1 388.2 125.3 387.5 126.5C386.8 127.7 386.5 128.4 386 130C385.5 131.6 384.9 133.8 384.5 136C384.1 138.2 383.9 140.3 383.8 143C383.7 145.7 383.7 149.2 383.8 152C383.9 154.8 384.2 157.7 384.5 160C384.8 162.3 385 163.8 385.5 166C386 168.2 386.7 171.1 387.5 173.5C388.3 175.9 389.3 178 390.5 180.5C391.7 183 393.1 186 394.5 188.5C395.9 191 397.3 193.2 399 195.5C400.7 197.8 402.7 200.4 404.5 202.3C406.3 204.2 408.2 205.7 410 207C411.8 208.3 413.2 209.3 415 210.3C416.8 211.3 419 212.4 421 213.2C423 214 424.7 214.5 427 215C429.3 215.5 432.3 216.1 435 216.4C437.7 216.7 440.5 216.9 443 217C445.5 217.1 447.7 217.2 450 217.2C452.3 217.2 454.5 217.1 457 217C459.5 216.9 462.3 216.7 465 216.4C467.7 216.1 470.7 215.5 473 215C475.3 214.5 477 214 479 213.2C481 212.4 483.2 211.3 485 210.3C486.8 209.3 488.2 208.3 490 207C491.8 205.7 493.7 204.2 495.5 202.3C497.3 200.4 499.3 197.8 501 195.5C502.7 193.2 504.1 191 505.5 188.5C506.9 186 508.3 183 509.5 180.5C510.7 178 511.7 175.9 512.5 173.5C513.3 171.1 514 168.2 514.5 166C515 163.8 515.2 162.3 515.5 160C515.8 157.7 516.1 154.8 516.2 152C516.3 149.2 516.3 145.7 516.2 143C516.1 140.3 515.9 138.2 515.5 136C515.1 133.8 514.5 131.6 514 130C513.5 128.4 513.2 127.7 512.5 126.5C511.8 125.3 511.2 124.1 510 123C508.8 121.9 506.8 121 505 120C503.2 119 500.7 117.8 499 117C497.3 116.2 496.3 115.7 495 115.5C493.7 115.3 492.3 116 491 115.8C489.7 115.6 488.2 114.8 487 114.3C485.8 113.8 484.4 112.5 483.5 112.5C482.6 112.5 481.9 113.2 481.6 114C481.4 114.8 482.4 116.8 482 117C481.6 117.2 480 115.8 479 115.2C478 114.6 476.8 113.6 476 113.5C475.2 113.4 475.3 113.8 474.3 114.5C473.3 115.2 474.1 116.2 470 118C465.9 119.8 456.7 125 450 125Z" fill="#009FFF" stroke="#000" stroke-width="0.55"/>
<path d="M425.7 114.5C417.3 115 424.7 116.7 423.7 117.8C422.7 118.9 421.1 119.9 419.7 121C418.3 122.1 416.7 123.2 415.5 124.5C414.3 125.8 413.3 127.4 412.5 129C411.7 130.6 410.9 132.3 410.5 134C410.1 135.7 409.9 137.2 409.9 139C409.8 140.8 409.9 143 410.2 145C410.5 147 410.9 149.2 411.5 151C412.1 152.8 412.6 154.4 413.5 156C414.4 157.6 415.8 159.1 417 160.5C418.2 161.9 419.8 163.6 421 164.5C422.2 165.4 423.2 165.4 424 165.8C424.8 166.2 424.8 166.6 425.5 167C426.2 167.4 426.9 168 428 168.5C429.1 169 430.7 169.8 432 170C433.3 170.2 434.8 170 436 169.8C437.2 169.6 438.2 169.8 439 169C439.8 168.2 439.9 166.3 440.5 165C441.1 163.7 441.8 162.2 442.5 161C443.2 159.8 444.1 158.4 445 157.5C445.9 156.6 447.2 155.9 448 155.5C448.8 155.1 449.3 155 450 155C450.7 155 451.2 155.1 452 155.5C452.8 155.9 454.1 156.6 455 157.5C455.9 158.4 456.8 159.8 457.5 161C458.2 162.2 458.9 163.7 459.5 165C460.1 166.3 460.2 168.2 461 169C461.8 169.8 462.8 169.6 464 169.8C465.2 170 466.7 170.2 468 170C469.3 169.8 470.9 169 472 168.5C473.1 168 473.8 167.4 474.5 167C475.2 166.6 475.2 166.2 476 165.8C476.8 165.4 477.8 165.4 479 164.5C480.2 163.6 481.8 161.9 483 160.5C484.2 159.1 485.6 157.6 486.5 156C487.4 154.4 487.9 152.8 488.5 151C489.1 149.2 489.5 147 489.8 145C490.1 143 490.2 140.8 490.1 139C490.1 137.2 489.9 135.7 489.5 134C489.1 132.3 488.3 130.6 487.5 129C486.7 127.4 485.7 125.8 484.5 124.5C483.3 123.2 481.7 122.1 480.3 121C478.9 119.9 477.3 118.9 476.3 117.8C475.3 116.7 482.7 115 474.3 114.5C465.9 114 434.1 114 425.7 114.5Z" fill="#0040FF" stroke="none"/>
<path d="M425.7 114.5L450 126L474.3 114.5L474.3 108L425.7 108Z" fill="#0040FF"/>
<path d="M425.7 114.5C425.4 115 424.7 116.7 423.7 117.8C422.7 118.9 421.1 119.9 419.7 121C418.3 122.1 416.7 123.2 415.5 124.5C414.3 125.8 413.3 127.4 412.5 129C411.7 130.6 410.9 132.3 410.5 134C410.1 135.7 409.9 137.2 409.9 139C409.8 140.8 409.9 143 410.2 145C410.5 147 410.9 149.2 411.5 151C412.1 152.8 412.6 154.4 413.5 156C414.4 157.6 415.8 159.1 417 160.5C418.2 161.9 419.8 163.6 421 164.5C422.2 165.4 423.2 165.4 424 165.8C424.8 166.2 424.8 166.6 425.5 167C426.2 167.4 426.9 168 428 168.5C429.1 169 430.7 169.8 432 170C433.3 170.2 434.8 170 436 169.8C437.2 169.6 438.2 169.8 439 169C439.8 168.2 439.9 166.3 440.5 165C441.1 163.7 441.8 162.2 442.5 161C443.2 159.8 444.1 158.4 445 157.5C445.9 156.6 447.2 155.9 448 155.5C448.8 155.1 449.3 155 450 155C450.7 155 451.2 155.1 452 155.5C452.8 155.9 454.1 156.6 455 157.5C455.9 158.4 456.8 159.8 457.5 161C458.2 162.2 458.9 163.7 459.5 165C460.1 166.3 460.2 168.2 461 169C461.8 169.8 462.8 169.6 464 169.8C465.2 170 466.7 170.2 468 170C469.3 169.8 470.9 169 472 168.5C473.1 168 473.8 167.4 474.5 167C475.2 166.6 475.2 166.2 476 165.8C476.8 165.4 477.8 165.4 479 164.5C480.2 163.6 481.8 161.9 483 160.5C484.2 159.1 485.6 157.6 486.5 156C487.4 154.4 487.9 152.8 488.5 151C489.1 149.2 489.5 147 489.8 145C490.1 143 490.2 140.8 490.1 139C490.1 137.2 489.9 135.7 489.5 134C489.1 132.3 488.3 130.6 487.5 129C486.7 127.4 485.7 125.8 484.5 124.5C483.3 123.2 481.7 122.1 480.3 121C478.9 119.9 477.3 118.9 476.3 117.8C475.3 116.7 474.6 115 474.3 114.5" fill="none" stroke="#000" stroke-width="0.55"/>
<path d="M425.7 114.5C425.4 114.3 424.8 113.4 424 113.5C423.2 113.6 422 114.6 421 115.2C420 115.8 418.4 117.2 418 117C417.6 116.8 418.6 114.8 418.4 114C418.1 113.2 417.4 112.5 416.5 112.5C415.6 112.5 414.2 113.8 413 114.3C411.8 114.8 410.3 115.6 409 115.8C407.7 116 406.3 115.3 405 115.5C403.7 115.7 402.7 116.2 401 117C399.3 117.8 396.8 119 395 120C393.2 121 391.2 121.9 390 123C388.8 124.1 388.2 125.3 387.5 126.5C386.8 127.7 386.2 129.4 386 130" fill="none" stroke="#000" stroke-width="0.55"/>
<path d="M474.3 114.5C474.6 114.3 475.2 113.4 476 113.5C476.8 113.6 478 114.6 479 115.2C480 115.8 481.6 117.2 482 117C482.4 116.8 481.4 114.8 481.6 114C481.9 113.2 482.6 112.5 483.5 112.5C484.4 112.5 485.8 113.8 487 114.3C488.2 114.8 489.7 115.6 491 115.8C492.3 116 493.7 115.3 495 115.5C496.3 115.7 497.3 116.2 499 117C500.7 117.8 503.2 119 505 120C506.8 121 508.8 121.9 510 123C511.2 124.1 511.8 125.3 512.5 126.5C513.2 127.7 513.8 129.4 514 130" fill="none" stroke="#000" stroke-width="0.55"/>
<path d="M450 111.8C446.7 111.8 442.8 111.9 440 112.2C437.2 112.5 434.9 112.9 433 113.5C431.1 114.1 429.6 115.1 428.5 115.8C427.4 116.5 426.3 116.9 426.3 117.8C426.3 118.7 427.4 119.8 428.5 121C429.6 122.2 431.4 123.7 433 125C434.6 126.3 436.2 127.6 438 128.8C439.8 130 442 131.3 444 132C446 132.7 448 133.2 450 133.2C452 133.2 454 132.7 456 132C458 131.3 460.2 130 462 128.8C463.8 127.6 465.4 126.3 467 125C468.6 123.7 470.4 122.2 471.5 121C472.6 119.8 473.7 118.7 473.7 117.8C473.7 116.9 472.6 116.5 471.5 115.8C470.4 115.1 468.9 114.1 467 113.5C465.1 112.9 462.8 112.5 460 112.2C457.2 111.9 453.3 111.8 450 111.8Z" fill="#009FFF" stroke="#000" stroke-width="0.55"/>
<path d="M416.4 132.9C417.5 132.3 419.4 133.6 421 134.5C422.6 135.4 424.7 136.7 426.3 138.2C427.9 139.7 429.9 141.8 430.5 143.4C431.1 145 430.5 146.6 429.6 148C428.7 149.4 426.6 151.1 425 152C423.4 152.9 421.2 153.6 419.7 153.6C418.2 153.6 416.7 153.3 415.8 152C414.9 150.7 414.5 148.3 414.2 146C413.9 143.7 413.8 140.4 414.2 138.2C414.6 136 415.3 133.5 416.4 132.9Z" fill="#0000DF" stroke="#000" stroke-width="0.55"/>
<path d="M483.6 132.9C482.5 132.3 480.6 133.6 479 134.5C477.4 135.4 475.3 136.7 473.7 138.2C472.1 139.7 470.1 141.8 469.5 143.4C468.9 145 469.5 146.6 470.4 148C471.3 149.4 473.4 151.1 475 152C476.6 152.9 478.8 153.6 480.3 153.6C481.8 153.6 483.3 153.3 484.2 152C485.1 150.7 485.5 148.3 485.8 146C486.1 143.7 486.2 140.4 485.8 138.2C485.4 136 484.7 133.5 483.6 132.9Z" fill="#0000DF" stroke="#000" stroke-width="0.55"/>
<path d="M450 178.6C446.3 178.6 441.5 178.7 439 178.6C436.5 178.5 436.3 178.5 435 178C433.7 177.5 432.3 176.3 431 175.5C429.7 174.7 428.3 173.9 427 173C425.7 172.1 424.3 171.1 423 170C421.7 168.9 420.3 167.7 419 166.5C417.7 165.3 416.3 164.2 415 163C413.7 161.8 412.2 160.3 411 159C409.8 157.7 409 156.1 408 155C407 153.9 406.2 153.4 405 152.5C403.8 151.6 402.2 150.3 401 149.5C399.8 148.7 398.9 147.2 398 147.4C397.1 147.6 396.1 149.2 395.4 150.7C394.7 152.2 394.1 155 393.8 156.6C393.5 158.2 393.5 158.6 393.5 160C393.5 161.4 393.7 163 394 165C394.3 167 394.8 169.6 395.5 172C396.2 174.4 397.3 177 398.5 179.5C399.7 182 401 184.6 402.5 187C404 189.4 405.7 191.9 407.5 194C409.3 196.1 411.4 197.8 413.5 199.5C415.6 201.2 417.8 203 420 204.5C422.2 206 424.8 207.6 427 208.5C429.2 209.4 431.2 209.9 433 210C434.8 210.1 436.5 209.2 438 209C439.5 208.8 440.7 208.3 442 208.5C443.3 208.7 444.7 209.7 446 210C447.3 210.3 448.7 210.5 450 210.5C451.3 210.5 452.7 210.3 454 210C455.3 209.7 456.7 208.7 458 208.5C459.3 208.3 460.5 208.8 462 209C463.5 209.2 465.2 210.1 467 210C468.8 209.9 470.8 209.4 473 208.5C475.2 207.6 477.8 206 480 204.5C482.2 203 484.4 201.2 486.5 199.5C488.6 197.8 490.7 196.1 492.5 194C494.3 191.9 496 189.4 497.5 187C499 184.6 500.3 182 501.5 179.5C502.7 177 503.8 174.4 504.5 172C505.2 169.6 505.7 167 506 165C506.3 163 506.5 161.4 506.5 160C506.5 158.6 506.5 158.2 506.2 156.6C505.9 155 505.3 152.2 504.6 150.7C503.9 149.2 502.9 147.6 502 147.4C501.1 147.2 500.2 148.7 499 149.5C497.8 150.3 496.2 151.6 495 152.5C493.8 153.4 493 153.9 492 155C491 156.1 490.2 157.7 489 159C487.8 160.3 486.3 161.8 485 163C483.7 164.2 482.3 165.3 481 166.5C479.7 167.7 478.3 168.9 477 170C475.7 171.1 474.3 172.1 473 173C471.7 173.9 470.3 174.7 469 175.5C467.7 176.3 466.3 177.5 465 178C463.7 178.5 463.5 178.5 461 178.6C458.5 178.7 453.7 178.6 450 178.6Z" fill="#00FFFF" stroke="#000" stroke-width="0.55"/>
<path d="M450 180.2C446 180.2 440.8 180.2 438 180.1C435.2 180 434.5 179.9 433 179.6C431.5 179.3 430.3 179 429 178.5C427.7 178 426.5 177.5 425 176.5C423.5 175.5 421.5 173.6 420 172.5C418.5 171.4 417.3 170.8 416 170C414.7 169.2 412.8 168.4 412 167.5C411.2 166.6 411.4 165.5 411 164.8C410.6 164.1 410.2 163.5 409.5 163.5C408.8 163.5 407.3 164.2 406.5 164.8C405.7 165.4 404.8 165.8 404.5 167C404.2 168.2 404.5 170.2 405 172C405.5 173.8 406.5 176 407.5 178C408.5 180 409.8 182.1 411 184C412.2 185.9 413.7 187.9 415 189.5C416.3 191.1 417.7 192.6 419 193.5C420.3 194.4 422 194.3 423 195C424 195.7 423.8 196.9 425 197.5C426.2 198.1 428.8 198 430 198.5C431.2 199 430.8 200.2 432 200.5C433.2 200.8 435.3 199.9 437 200C438.7 200.1 440.5 200.6 442 201C443.5 201.4 444.7 202.2 446 202.5C447.3 202.8 448.7 202.8 450 202.8C451.3 202.8 452.7 202.8 454 202.5C455.3 202.2 456.5 201.4 458 201C459.5 200.6 461.3 200.1 463 200C464.7 199.9 466.8 200.8 468 200.5C469.2 200.2 468.8 199 470 198.5C471.2 198 473.8 198.1 475 197.5C476.2 196.9 476 195.7 477 195C478 194.3 479.7 194.4 481 193.5C482.3 192.6 483.7 191.1 485 189.5C486.3 187.9 487.8 185.9 489 184C490.2 182.1 491.5 180 492.5 178C493.5 176 494.5 173.8 495 172C495.5 170.2 495.8 168.2 495.5 167C495.2 165.8 494.3 165.4 493.5 164.8C492.7 164.2 491.2 163.5 490.5 163.5C489.8 163.5 489.4 164.1 489 164.8C488.6 165.5 488.8 166.6 488 167.5C487.2 168.4 485.3 169.2 484 170C482.7 170.8 481.5 171.4 480 172.5C478.5 173.6 476.5 175.5 475 176.5C473.5 177.5 472.3 178 471 178.5C469.7 179 468.5 179.3 467 179.6C465.5 179.9 464.8 180 462 180.1C459.2 180.2 454 180.2 450 180.2Z" fill="#60FF9F" stroke="#000" stroke-width="0.55"/>
<path d="M450 181.6C446 181.6 440.8 181.6 438 181.5C435.2 181.4 434.5 181.1 433 180.8C431.5 180.5 430.2 179.7 429 179.6C427.8 179.5 426.3 179.4 425.5 180C424.7 180.6 424.2 181.8 424 183C423.8 184.2 423.8 185.7 424.5 187C425.2 188.3 426.8 189.8 428 191C429.2 192.2 430.8 193.8 432 194.5C433.2 195.2 434 195.2 435 195C436 194.8 436.8 193.3 438 193.2C439.2 193.1 440.7 194 442 194.5C443.3 195 444.7 195.7 446 196C447.3 196.3 448.7 196.3 450 196.3C451.3 196.3 452.7 196.3 454 196C455.3 195.7 456.7 195 458 194.5C459.3 194 460.8 193.1 462 193.2C463.2 193.3 464 194.8 465 195C466 195.2 466.8 195.2 468 194.5C469.2 193.8 470.8 192.2 472 191C473.2 189.8 474.8 188.3 475.5 187C476.2 185.7 476.2 184.2 476 183C475.8 181.8 475.3 180.6 474.5 180C473.7 179.4 472.2 179.5 471 179.6C469.8 179.7 468.5 180.5 467 180.8C465.5 181.1 464.8 181.4 462 181.5C459.2 181.6 454 181.6 450 181.6Z" fill="#AFFF50" stroke="#000" stroke-width="0.55"/>
<path d="M417 178.3C417.2 177.7 418.3 177.3 419 177.2C419.7 177.1 420.2 178.1 421 177.8C421.8 177.5 422.8 175.8 423.5 175.5C424.2 175.2 424.9 175.6 425 176.2C425.1 176.8 424.5 178.1 424 179C423.5 179.9 422.2 180.6 422 181.5C421.8 182.4 422.1 183.8 422.5 184.5C422.9 185.2 424.3 185.5 424.5 186C424.7 186.5 424.1 187.5 423.5 187.5C422.9 187.5 421.6 186.8 421 186C420.4 185.2 420.5 183.3 420 182.5C419.5 181.7 418.5 181.7 418 181C417.5 180.3 416.8 178.9 417 178.3Z" fill="#F4F810" stroke="#000" stroke-width="0.5"/>
<path d="M483 178.3C482.8 177.7 481.7 177.3 481 177.2C480.3 177.1 479.8 178.1 479 177.8C478.2 177.5 477.2 175.8 476.5 175.5C475.8 175.2 475.1 175.6 475 176.2C474.9 176.8 475.5 178.1 476 179C476.5 179.9 477.8 180.6 478 181.5C478.2 182.4 477.9 183.8 477.5 184.5C477.1 185.2 475.7 185.5 475.5 186C475.3 186.5 475.9 187.5 476.5 187.5C477.1 187.5 478.4 186.8 479 186C479.6 185.2 479.5 183.3 480 182.5C480.5 181.7 481.5 181.7 482 181C482.5 180.3 483.2 178.9 483 178.3Z" fill="#F4F810" stroke="#000" stroke-width="0.5"/>
<ellipse cx="426.8" cy="186.8" rx="1.4" ry="2.1" fill="#FFC400" stroke="#B05000" stroke-width="0.5"/>
<path d="M412.5 171.6l1.8 1.8l-1.8 1.8l-1.8 -1.8z" fill="#8A9A30" stroke="#5A5A10" stroke-width="0.5"/>
<path d="M435.6 178.8l3.1 3.1l-3.1 3.1l-3.1 -3.1z" fill="#000"/>
<ellipse cx="473.2" cy="186.8" rx="1.4" ry="2.1" fill="#FFC400" stroke="#B05000" stroke-width="0.5"/>
<path d="M487.5 171.6l1.8 1.8l-1.8 1.8l-1.8 -1.8z" fill="#8A9A30" stroke="#5A5A10" stroke-width="0.5"/>
<path d="M464.4 178.8l3.1 3.1l-3.1 3.1l-3.1 -3.1z" fill="#000"/>
<rect x="447.3" y="190.2" width="5" height="1.2" fill="#6A5A00"/>
</g>
<text x="359.3" y="55.3" font-size="12.5" font-family="'Liberation Sans',Arial,sans-serif" fill="#fff">primary <tspan font-style="italic">L</tspan></text>
<text x="359.6" y="234" font-size="12.5" font-family="'Liberation Sans',Arial,sans-serif" fill="#fff">backscattered <tspan font-style="italic">L</tspan></text>
<rect x="354" y="42" width="191.8" height="197.5" fill="none" stroke="#000" stroke-width="0.6"/>
<path d="M402 239.5v-2 M402 42v2M450 239.5v-2 M450 42v2M498 239.5v-2 M498 42v2M354 91.3h2 M545.8 91.3h-2M354 140.6h2 M545.8 140.6h-2M354 189.9h2 M545.8 189.9h-2" stroke="#000" stroke-width="0.6" fill="none"/>
<text x="351" y="46.8" font-size="12" font-family="'Liberation Serif','Times New Roman',serif" text-anchor="end">0.4</text>
<text x="351" y="96.1" font-size="12" font-family="'Liberation Serif','Times New Roman',serif" text-anchor="end">0.2</text>
<text x="351" y="145.4" font-size="12" font-family="'Liberation Serif','Times New Roman',serif" text-anchor="end">0</text>
<text x="351" y="194.7" font-size="12" font-family="'Liberation Serif','Times New Roman',serif" text-anchor="end">−0.2</text>
<text x="351" y="244.3" font-size="12" font-family="'Liberation Serif','Times New Roman',serif" text-anchor="end">−0.4</text>
<text x="350.5" y="253.8" font-size="12" font-family="'Liberation Serif','Times New Roman',serif" text-anchor="middle">−0.4</text>
<text x="398.5" y="253.8" font-size="12" font-family="'Liberation Serif','Times New Roman',serif" text-anchor="middle">−0.2</text>
<text x="449.5" y="253.8" font-size="12" font-family="'Liberation Serif','Times New Roman',serif" text-anchor="middle">0</text>
<text x="497.5" y="253.8" font-size="12" font-family="'Liberation Serif','Times New Roman',serif" text-anchor="middle">0.2</text>
<text x="545.5" y="253.8" font-size="12" font-family="'Liberation Serif','Times New Roman',serif" text-anchor="middle">0.4</text>
<rect x="561" y="42" width="20.5" height="197.5" fill="url(#jet)" stroke="#000" stroke-width="0.5"/>
<text x="585" y="47" font-size="12" font-family="'Liberation Serif','Times New Roman',serif">0</text>
<text x="585" y="82.2" font-size="12" font-family="'Liberation Serif','Times New Roman',serif">−1</text>
<text x="585" y="117.4" font-size="12" font-family="'Liberation Serif','Times New Roman',serif">−2</text>
<text x="585" y="152.6" font-size="12" font-family="'Liberation Serif','Times New Roman',serif">−3</text>
<text x="585" y="187.8" font-size="12" font-family="'Liberation Serif','Times New Roman',serif">−4</text>
<text x="585" y="223" font-size="12" font-family="'Liberation Serif','Times New Roman',serif">−5</text>
<path d="M561 43h2 M581.5 43h-2M561 78.2h2 M581.5 78.2h-2M561 113.4h2 M581.5 113.4h-2M561 148.6h2 M581.5 148.6h-2M561 183.8h2 M581.5 183.8h-2M561 219h2 M581.5 219h-2" stroke="#000" stroke-width="0.6" fill="none"/>
<text x="425.8" y="28.5" font-size="11.5" font-family="'Liberation Serif','Times New Roman',serif" font-weight="bold">(b)</text>
<text x="450.6" y="28.5" font-size="13" font-family="'Liberation Serif','Times New Roman',serif" font-style="italic">I</text>
<text x="455.8" y="35.5" font-size="10.5" font-family="'Liberation Serif','Times New Roman',serif" font-style="italic">L</text>
<text x="462.3" y="28.5" font-size="13" font-family="'Liberation Serif','Times New Roman',serif">(</text>
<text x="470.8" y="28.5" font-size="13" font-family="'Liberation Serif','Times New Roman',serif" font-weight="bold">k</text>
<text x="479" y="28.5" font-size="13" font-family="'Liberation Serif','Times New Roman',serif">)</text>
<text x="425.8" y="263" font-size="13" font-family="'Liberation Serif','Times New Roman',serif" font-style="italic">k</text>
<text x="431.7" y="270.3" font-size="10.5" font-family="'Liberation Serif','Times New Roman',serif" font-style="italic">x</text>
<text x="437.4" y="263" font-size="13" font-family="'Liberation Serif','Times New Roman',serif" font-style="italic">v</text>
<text x="443.7" y="270.3" font-size="10.5" font-family="'Liberation Serif','Times New Roman',serif" font-style="italic">th</text>
<text x="451.8" y="263" font-size="13" font-family="'Liberation Serif','Times New Roman',serif">/</text>
<text x="455" y="263" font-size="14" font-family="'Liberation Serif','Times New Roman',serif">ω</text>
<text x="466.7" y="270.3" font-size="10.5" font-family="'Liberation Serif','Times New Roman',serif" font-style="italic">pe</text>
<g transform="translate(314.7,164.5) rotate(-90)">
<text x="0" y="0" font-size="13" font-family="'Liberation Serif','Times New Roman',serif" font-style="italic">k</text>
<text x="5.9" y="7.3" font-size="10.5" font-family="'Liberation Serif','Times New Roman',serif" font-style="italic">z</text>
<text x="11.6" y="0" font-size="13" font-family="'Liberation Serif','Times New Roman',serif" font-style="italic">v</text>
<text x="17.9" y="7.3" font-size="10.5" font-family="'Liberation Serif','Times New Roman',serif" font-style="italic">th</text>
<text x="26" y="0" font-size="13" font-family="'Liberation Serif','Times New Roman',serif">/</text>
<text x="29.2" y="0" font-size="14" font-family="'Liberation Serif','Times New Roman',serif">ω</text>
<text x="40.9" y="7.3" font-size="10.5" font-family="'Liberation Serif','Times New Roman',serif" font-style="italic">pe</text>
</g>
<clipPath id="clipC"><rect x="53.7" y="297.5" width="191.3" height="197"/></clipPath>
<rect x="53.7" y="297.5" width="191.3" height="197" fill="#8FFF70"/>
<g clip-path="url(#clipC)">
<path d="M149 330.4C147.9 330.4 144.3 330.1 142.3 330.4C140.4 330.6 138.5 331.3 137.3 331.7C136 332.1 135.9 332.4 134.8 332.5C133.7 332.6 132.7 332 130.6 332.4C128.5 332.7 125.3 333.9 122.2 334.5C119.2 335.2 115.5 335.7 112.2 336.2C108.9 336.7 104.7 337 102.2 337.4C99.7 337.8 98.3 338.1 97.2 338.7C96 339.4 95.8 340.3 95.5 341.2C95.1 342.2 95.7 343.3 95.1 344.6C94.6 345.8 93.3 347.1 92.1 348.8C90.9 350.4 89.3 352.5 88 354.6C86.6 356.7 85 359.1 83.8 361.3C82.5 363.5 81.4 365.8 80.4 368C79.5 370.2 78.5 372.7 77.9 374.7C77.4 376.6 76.9 378.2 77.1 379.7C77.2 381.2 77.8 382.8 78.8 383.9C79.7 385 81 386 82.9 386.4C84.9 386.8 87.5 386.6 90.5 386.4C93.4 386.2 97.2 385.5 100.5 385.2C103.8 384.9 107.5 384.7 110.5 384.7C113.6 384.8 116.4 385.1 118.9 385.5C121.4 386 123.8 386.7 125.6 387.2C127.4 387.8 128.7 388.2 129.8 388.9C130.8 389.6 131.5 390.4 131.9 391.4C132.4 392.4 132.7 393.4 132.4 394.7C132.2 396 131.6 398.1 130.6 399.2C129.6 400.4 128.4 401 126.4 401.7C124.5 402.4 121.8 403 118.9 403.4C116 403.8 112.2 404.1 108.9 404.2C105.5 404.4 102.2 404.3 98.8 404.2C95.5 404.1 91.7 403.7 88.8 403.7C85.9 403.7 83.2 403.7 81.3 404.2C79.3 404.7 77.9 405.8 77.1 406.7C76.2 407.7 76.2 408.4 76.2 410.1C76.3 411.8 76.7 414.3 77.4 416.8C78.1 419.3 79.2 422.3 80.4 425.1C81.6 427.9 83.1 430.7 84.6 433.5C86.1 436.3 88.1 439.3 89.6 441.9C91.2 444.4 92.8 446.6 93.8 448.5C94.8 450.5 95 452.3 95.8 453.6C96.6 454.8 97.2 455.4 98.8 456.1C100.4 456.8 103 457.2 105.5 457.7C108 458.3 111.1 458.9 113.9 459.4C116.7 460 119.4 460.5 122.2 461.1C125 461.6 127.8 462.4 130.6 462.8C133.4 463.1 136.4 463.2 139 463.3C141.5 463.3 144 463.2 145.6 463.3C147.3 463.3 148.4 463.4 149 463.4C149.6 463.5 148.4 463.5 149 463.4C149.6 463.4 150.7 463.3 152.4 463.3C154 463.2 156.5 463.3 159 463.3C161.6 463.2 164.6 463.1 167.4 462.8C170.2 462.4 173 461.6 175.8 461.1C178.6 460.5 181.3 460 184.1 459.4C186.9 458.9 190 458.3 192.5 457.7C195 457.2 197.6 456.8 199.2 456.1C200.8 455.4 201.4 454.8 202.2 453.6C203 452.3 203.2 450.5 204.2 448.5C205.2 446.6 206.8 444.4 208.4 441.9C209.9 439.3 211.9 436.3 213.4 433.5C214.9 430.7 216.4 427.9 217.6 425.1C218.8 422.3 219.9 419.3 220.6 416.8C221.3 414.3 221.7 411.8 221.8 410.1C221.8 408.4 221.8 407.7 220.9 406.7C220.1 405.8 218.7 404.7 216.7 404.2C214.8 403.7 212.1 403.7 209.2 403.7C206.3 403.7 202.5 404.1 199.2 404.2C195.8 404.3 192.5 404.4 189.1 404.2C185.8 404.1 182 403.8 179.1 403.4C176.2 403 173.5 402.4 171.6 401.7C169.6 401 168.4 400.4 167.4 399.2C166.4 398.1 165.8 396 165.6 394.7C165.3 393.4 165.6 392.4 166.1 391.4C166.5 390.4 167.2 389.6 168.2 388.9C169.3 388.2 170.6 387.8 172.4 387.2C174.2 386.7 176.6 386 179.1 385.5C181.6 385.1 184.4 384.8 187.5 384.7C190.5 384.7 194.2 384.9 197.5 385.2C200.8 385.5 204.6 386.2 207.5 386.4C210.5 386.6 213.1 386.8 215.1 386.4C217 386 218.3 385 219.2 383.9C220.2 382.8 220.8 381.2 220.9 379.7C221.1 378.2 220.6 376.6 220.1 374.7C219.5 372.7 218.5 370.2 217.6 368C216.6 365.8 215.5 363.5 214.2 361.3C213 359.1 211.4 356.7 210 354.6C208.7 352.5 207.1 350.4 205.9 348.8C204.7 347.1 203.4 345.8 202.9 344.6C202.3 343.3 202.9 342.2 202.5 341.2C202.2 340.3 202 339.4 200.8 338.7C199.7 338.1 198.3 337.8 195.8 337.4C193.3 337 189.1 336.7 185.8 336.2C182.5 335.7 178.8 335.2 175.8 334.5C172.7 333.9 169.5 332.7 167.4 332.4C165.3 332 164.3 332.6 163.2 332.5C162.1 332.4 162 332.1 160.7 331.7C159.5 331.3 157.6 330.6 155.7 330.4C153.7 330.1 150.1 330.4 149 330.4C147.9 330.4 150.1 330.4 149 330.4Z" fill="#10FFEF" stroke="#000" stroke-width="0.6"/>
<path d="M149 353.8C147.9 353.9 144.5 354.1 142.3 354.6C140.1 355.2 137.8 356.3 135.6 357.1C133.4 358 131 358.8 128.9 359.6C126.8 360.5 124.5 361.2 123.1 362.1C121.7 363.1 121.1 364.2 120.6 365.5C120 366.7 120.1 368.3 119.7 369.7C119.3 371.1 118.2 372.4 118.1 373.8C117.9 375.2 118.1 376.8 118.9 378C119.7 379.3 121.4 380.2 123.1 381.4C124.7 382.5 127.3 383.6 128.9 384.7C130.6 385.8 132 386.8 133.1 388.1C134.2 389.3 134.9 390.7 135.3 392.2C135.7 393.8 135.7 395.9 135.6 397.3C135.5 398.6 135.6 398.9 134.8 400.1C133.9 401.2 132.4 403 130.6 404.2C128.8 405.5 126 406.6 123.9 407.6C121.8 408.6 119.6 409 118.1 410.1C116.5 411.2 115 412.9 114.7 414.3C114.4 415.7 115.5 417.1 116.4 418.4C117.2 419.8 118.9 421.2 119.7 422.6C120.6 424 120.4 425.6 121.4 426.8C122.4 428.1 123.8 429.2 125.6 430.2C127.4 431.1 129.8 431.9 132.3 432.7C134.8 433.4 137.8 434.3 140.6 434.8C143.4 435.3 147.6 435.5 149 435.7C150.4 435.8 147.6 435.8 149 435.7C150.4 435.5 154.6 435.3 157.4 434.8C160.2 434.3 163.2 433.4 165.7 432.7C168.2 431.9 170.6 431.1 172.4 430.2C174.2 429.2 175.6 428.1 176.6 426.8C177.6 425.6 177.4 424 178.3 422.6C179.1 421.2 180.8 419.8 181.6 418.4C182.5 417.1 183.6 415.7 183.3 414.3C183 412.9 181.5 411.2 179.9 410.1C178.4 409 176.2 408.6 174.1 407.6C172 406.6 169.2 405.5 167.4 404.2C165.6 403 164.1 401.2 163.2 400.1C162.4 398.9 162.5 398.6 162.4 397.3C162.3 395.9 162.3 393.8 162.7 392.2C163.1 390.7 163.8 389.3 164.9 388.1C166 386.8 167.4 385.8 169.1 384.7C170.7 383.6 173.3 382.5 174.9 381.4C176.6 380.2 178.3 379.3 179.1 378C179.9 376.8 180.1 375.2 179.9 373.8C179.8 372.4 178.7 371.1 178.3 369.7C177.9 368.3 178 366.7 177.4 365.5C176.9 364.2 176.3 363.1 174.9 362.1C173.5 361.2 171.2 360.5 169.1 359.6C167 358.8 164.6 358 162.4 357.1C160.2 356.3 157.9 355.2 155.7 354.6C153.5 354.1 150.1 353.9 149 353.8C147.9 353.6 150.1 353.6 149 353.8Z" fill="#008FFF" stroke="#000" stroke-width="0.6"/>
<path d="M149 373C147.9 373.1 144.3 373.3 142.3 373.8C140.4 374.4 138.7 375.4 137.3 376.3C135.9 377.3 134.6 378.6 133.9 379.7C133.2 380.8 132.8 381.9 133.1 383C133.4 384.2 134.8 385.1 135.6 386.4C136.4 387.6 137.6 389 138.1 390.6C138.6 392.1 138.6 394.8 138.6 395.6C138.6 396.3 138.6 394 138.1 395C137.6 396.1 136.4 399.8 135.6 401.7C134.8 403.7 133.4 405.3 133.1 406.7C132.8 408.1 133.2 409 133.9 410.1C134.6 411.2 135.9 412.5 137.3 413.4C138.7 414.4 140.4 415.3 142.3 415.9C144.3 416.5 147.9 416.9 149 417.1C150.1 417.3 147.9 417.3 149 417.1C150.1 416.9 153.7 416.5 155.7 415.9C157.6 415.3 159.3 414.4 160.7 413.4C162.1 412.5 163.4 411.2 164.1 410.1C164.8 409 165.2 408.1 164.9 406.7C164.6 405.3 163.2 403.7 162.4 401.7C161.6 399.8 160.4 396.1 159.9 395C159.4 394 159.4 396.3 159.4 395.6C159.4 394.8 159.4 392.1 159.9 390.6C160.4 389 161.6 387.6 162.4 386.4C163.2 385.1 164.6 384.2 164.9 383C165.2 381.9 164.8 380.8 164.1 379.7C163.4 378.6 162.1 377.3 160.7 376.3C159.3 375.4 157.6 374.4 155.7 373.8C153.7 373.3 150.1 373.1 149 373C147.9 372.9 150.1 372.9 149 373Z" fill="#0010FF" stroke="#000" stroke-width="0.6"/>
<path d="M149 382.2C148.2 382.3 145.4 382.3 144 383C142.6 383.7 141.3 385.1 140.6 386.4C139.9 387.6 139.9 389 139.8 390.6C139.7 392.1 139.7 395.4 139.8 395.6C139.8 395.8 140 391.2 140.1 391.7C140.3 392.2 140.1 396.4 140.6 398.4C141.1 400.3 142 402.1 143.1 403.4C144.3 404.6 146.3 405.4 147.3 405.9C148.3 406.4 148.7 406.3 149 406.4C149.3 406.5 148.7 406.5 149 406.4C149.3 406.3 149.7 406.4 150.7 405.9C151.7 405.4 153.7 404.6 154.9 403.4C156 402.1 156.9 400.3 157.4 398.4C157.9 396.4 157.7 392.2 157.9 391.7C158 391.2 158.2 395.8 158.2 395.6C158.3 395.4 158.3 392.1 158.2 390.6C158.1 389 158.1 387.6 157.4 386.4C156.7 385.1 155.4 383.7 154 383C152.6 382.3 149.8 382.3 149 382.2C148.2 382.1 149.8 382.1 149 382.2Z" fill="#00008F" stroke="#000" stroke-width="0.6"/>
<path d="M149 300.6L140 300.6L136.7 301L134.2 302.3L130 303.1L126.7 304.3L124.2 306.4L121.7 308.5L118.3 310.6L115 311.8L112.5 313.1L110 314.8L111.3 316.8L110.4 318.9L111.7 320.6L116.7 321L121.7 321.4L126.7 321.8L129.2 321.2L132.5 321L149 321L165.5 321L168.8 321.2L171.3 321.8L176.3 321.4L181.3 321L186.3 320.6L187.6 318.9L186.7 316.8L188 314.8L185.5 313.1L183 311.8L179.7 310.6L176.3 308.5L173.8 306.4L171.3 304.3L168 303.1L163.8 302.3L161.3 301L158 300.6Z" fill="#FFEF00" stroke="#000" stroke-width="0.6"/>
<path d="M127.9 315.6L131.7 313.9L134.2 311.8L136.7 310.6L141.7 310.3L144.2 311.4L146.7 312.3L149 312.3L151.3 312.3L153.8 311.4L156.3 310.3L161.3 310.6L163.8 311.8L166.3 313.9L170.1 315.6L170.1 315.6L165.5 316.4L161.3 316L159.7 313.9L157.2 313.1L154.7 313.9L152.2 315.6L149 315.8L145.8 315.6L143.3 313.9L140.8 313.1L138.3 313.9L136.7 316L132.5 316.4L127.9 315.6Z" fill="#FF7000" stroke="#000" stroke-width="0.6"/>
<path d="M145 310.6L153 310.6" stroke="#5A1000" stroke-width="0.9"/>
<ellipse cx="149" cy="304.3" rx="6.3" ry="1.3" fill="#A8C020" stroke="#333" stroke-width="0.5"/>
<rect x="128.3" y="320.8" width="41.4" height="3.4" fill="#C02800"/>
<rect x="130" y="321.4" width="38" height="2" fill="#3A0600"/>
<path d="M114.2 324.8L117.5 324.3L121.7 323.5L129.2 322.3L130 323.5L125.8 325.2L121.7 326.8L118.3 328.5L115 329.8L113.8 328.9L115.4 327.3L114.2 326Z" fill="#FFEF00" stroke="#000" stroke-width="0.6"/>
<path d="M117.3 327.6L121.5 325.6L129 322.8L129.4 323.6L122 326.4L118 328.2Z" fill="#FF7000" stroke="#000" stroke-width="0.4"/>
<path d="M183.8 324.8L180.5 324.3L176.3 323.5L168.8 322.3L168 323.5L172.2 325.2L176.3 326.8L179.7 328.5L183 329.8L184.2 328.9L182.6 327.3L183.8 326Z" fill="#FFEF00" stroke="#000" stroke-width="0.6"/>
<path d="M180.7 327.6L176.5 325.6L169 322.8L168.6 323.6L176 326.4L180 328.2Z" fill="#FF7000" stroke="#000" stroke-width="0.4"/>
<ellipse cx="149" cy="326.9" rx="7.2" ry="1.6" fill="#FFEF00" stroke="#000" stroke-width="0.5"/>
<ellipse cx="149" cy="326.2" rx="4.5" ry="0.7" fill="#A0E050" stroke="#444" stroke-width="0.4"/>
<circle cx="115.2" cy="315.7" r="0.6" fill="#400"/>
<ellipse cx="135.3" cy="460.2" rx="3.1" ry="2" fill="#D0F058" stroke="#444" stroke-width="0.5"/>
<ellipse cx="135.3" cy="460.2" rx="1.5" ry="0.8" fill="#A0A020"/>
<ellipse cx="128.5" cy="458" rx="0.9" ry="0.6" fill="#30A080"/>
<circle cx="182.8" cy="315.7" r="0.6" fill="#400"/>
<ellipse cx="162.7" cy="460.2" rx="3.1" ry="2" fill="#D0F058" stroke="#444" stroke-width="0.5"/>
<ellipse cx="162.7" cy="460.2" rx="1.5" ry="0.8" fill="#A0A020"/>
<ellipse cx="169.5" cy="458" rx="0.9" ry="0.6" fill="#30A080"/>
<ellipse cx="149" cy="464.6" rx="7" ry="1.9" fill="#10FFEF" stroke="#222" stroke-width="0.5"/>
</g>
<text x="57.6" y="307.6" font-size="12.5" font-family="'Liberation Sans',Arial,sans-serif">enhanced</text>
<text x="77.8" y="321.4" font-size="12.5" font-family="'Liberation Sans',Arial,sans-serif" font-style="italic">S</text>
<text x="130.3" y="479.5" font-size="12.5" font-family="'Liberation Sans',Arial,sans-serif">weakly−enhanced <tspan font-style="italic">S</tspan></text>
<path d="M146.3 481.8h5.6M147 490.7h4.2" stroke="#000" stroke-width="0.8"/>
<text x="57.6" y="483.7" font-size="11.5" font-family="'Liberation Serif','Times New Roman',serif" font-weight="bold">(c)</text>
<text x="77" y="483.7" font-size="13" font-family="'Liberation Serif','Times New Roman',serif" font-style="italic">I</text>
<text x="82" y="490" font-size="11" font-family="'Liberation Serif','Times New Roman',serif" font-style="italic">S</text>
<text x="88.5" y="483.7" font-size="13" font-family="'Liberation Serif','Times New Roman',serif">(</text>
<text x="95.7" y="483.7" font-size="13" font-family="'Liberation Serif','Times New Roman',serif" font-weight="bold">k</text>
<text x="104" y="483.7" font-size="13" font-family="'Liberation Serif','Times New Roman',serif">)</text>
<rect x="53.7" y="297.5" width="191.3" height="197" fill="none" stroke="#000" stroke-width="0.6"/>
<path d="M149.4 494.5v-2 M149.4 297.5v2M53.7 396h2 M245 396h-2" stroke="#000" stroke-width="0.6" fill="none"/>
<text x="50.6" y="302.3" font-size="12" font-family="'Liberation Serif','Times New Roman',serif" text-anchor="end">0.5</text>
<text x="50.6" y="400.8" font-size="12" font-family="'Liberation Serif','Times New Roman',serif" text-anchor="end">0</text>
<text x="50.6" y="499.3" font-size="12" font-family="'Liberation Serif','Times New Roman',serif" text-anchor="end">−0.5</text>
<text x="50.2" y="509" font-size="12" font-family="'Liberation Serif','Times New Roman',serif" text-anchor="middle">−0.5</text>
<text x="148.9" y="509" font-size="12" font-family="'Liberation Serif','Times New Roman',serif" text-anchor="middle">0</text>
<text x="244.5" y="509" font-size="12" font-family="'Liberation Serif','Times New Roman',serif" text-anchor="middle">0.5</text>
<rect x="260.5" y="297.5" width="21" height="197" fill="url(#jet)" stroke="#000" stroke-width="0.5"/>
<text x="285" y="302" font-size="12" font-family="'Liberation Serif','Times New Roman',serif">−5</text>
<text x="285" y="351.2" font-size="12" font-family="'Liberation Serif','Times New Roman',serif">−6</text>
<text x="285" y="400.3" font-size="12" font-family="'Liberation Serif','Times New Roman',serif">−7</text>
<text x="285" y="449.5" font-size="12" font-family="'Liberation Serif','Times New Roman',serif">−8</text>
<text x="285" y="498.5" font-size="12" font-family="'Liberation Serif','Times New Roman',serif">−9</text>
<path d="M260.5 298h2 M281.5 298h-2M260.5 347.2h2 M281.5 347.2h-2M260.5 396.3h2 M281.5 396.3h-2M260.5 445.5h2 M281.5 445.5h-2M260.5 494.5h2 M281.5 494.5h-2" stroke="#000" stroke-width="0.6" fill="none"/>
<text x="125" y="518.9" font-size="13" font-family="'Liberation Serif','Times New Roman',serif" font-style="italic">k</text>
<text x="130.9" y="526.2" font-size="10.5" font-family="'Liberation Serif','Times New Roman',serif" font-style="italic">x</text>
<text x="136.6" y="518.9" font-size="13" font-family="'Liberation Serif','Times New Roman',serif" font-style="italic">v</text>
<text x="142.9" y="526.2" font-size="10.5" font-family="'Liberation Serif','Times New Roman',serif" font-style="italic">th</text>
<text x="151" y="518.9" font-size="13" font-family="'Liberation Serif','Times New Roman',serif">/</text>
<text x="154.2" y="518.9" font-size="14" font-family="'Liberation Serif','Times New Roman',serif">ω</text>
<text x="165.9" y="526.2" font-size="10.5" font-family="'Liberation Serif','Times New Roman',serif" font-style="italic">pe</text>
<g transform="translate(14.7,420) rotate(-90)">
<text x="0" y="0" font-size="13" font-family="'Liberation Serif','Times New Roman',serif" font-style="italic">k</text>
<text x="5.9" y="7.3" font-size="10.5" font-family="'Liberation Serif','Times New Roman',serif" font-style="italic">z</text>
<text x="11.6" y="0" font-size="13" font-family="'Liberation Serif','Times New Roman',serif" font-style="italic">v</text>
<text x="17.9" y="7.3" font-size="10.5" font-family="'Liberation Serif','Times New Roman',serif" font-style="italic">th</text>
<text x="26" y="0" font-size="13" font-family="'Liberation Serif','Times New Roman',serif">/</text>
<text x="29.2" y="0" font-size="14" font-family="'Liberation Serif','Times New Roman',serif">ω</text>
<text x="40.9" y="7.3" font-size="10.5" font-family="'Liberation Serif','Times New Roman',serif" font-style="italic">pe</text>
</g>
<clipPath id="clipD"><rect x="353.8" y="297.5" width="192.2" height="197"/></clipPath>
<rect x="353.8" y="297.5" width="192.2" height="197" fill="#0030FF"/>
<g clip-path="url(#clipD)">
<path d="M450 333.9L445.3 335.7L441.8 337.8L436 338L426.7 337.8L423 338L419.8 340.5L415.9 344.4L411.3 349L406.7 353.7L402.7 357.6L399.4 360.9L396.2 364.2L392.9 367.5L392.2 372.7L392.9 377.3L390.9 381.3L388.9 384.6L388.5 389.8L388.8 393.5L388.3 397.3L390.2 402.5L392.9 406.5L392.2 411.7L392.2 418.3L394.2 424.9L398.1 430.2L402.7 435.4L408 440.7L412.6 445.9L417.2 450.6L421.2 453.2L427.7 453.8L433.7 453.6L438.3 455.8L443.5 458.4L450 459.8L456.5 458.4L461.7 455.8L466.3 453.6L472.3 453.8L478.8 453.2L482.8 450.6L487.4 445.9L492 440.7L497.3 435.4L501.9 430.2L505.8 424.9L507.8 418.3L507.8 411.7L507.1 406.5L509.8 402.5L511.7 397.3L511.2 393.5L511.5 389.8L511.1 384.6L509.1 381.3L507.1 377.3L507.8 372.7L507.1 367.5L503.8 364.2L500.6 360.9L497.3 357.6L493.3 353.7L488.7 349L484.1 344.4L480.2 340.5L477 338L473.3 337.8L464 338L458.2 337.8L454.7 335.7ZM450 347.3L444.2 347.9L438.3 347.9L433.7 349.4L429.5 352.2L426 353.8L422.3 352.6L419.8 355.2L416.6 359.6L413.3 363.5L410 366.2L408.7 370.1L407.3 374.1L404.7 378L404.1 383.3L402.7 388.5L398 391.8L396.2 395.3L398.1 399.2L401.4 403.2L403.4 407.8L404.1 413.7L407.3 418.3L408.7 423.6L412.6 428.8L416.6 434.1L420.5 438.1L425.1 440L429.1 442L434.3 445.3L438.3 446.6L442.2 444.6L446.2 443.3L450 442.7L453.8 443.3L457.8 444.6L461.7 446.6L465.7 445.3L470.9 442L474.9 440L479.5 438.1L483.4 434.1L487.4 428.8L491.3 423.6L492.7 418.3L495.9 413.7L496.6 407.8L498.6 403.2L501.9 399.2L503.8 395.3L502 391.8L497.3 388.5L495.9 383.3L495.3 378L492.7 374.1L491.3 370.1L490 366.2L486.7 363.5L483.4 359.6L480.2 355.2L477.7 352.6L474 353.8L470.5 352.2L466.3 349.4L461.7 347.9L455.8 347.9Z" fill="#08A8FF" fill-rule="evenodd" stroke="#000" stroke-width="0.55" stroke-linejoin="round"/>
<path d="M422 343.8L424.3 340.3L430.2 338.6L438.3 339.8L443.6 341.5L444.8 343.8L441.8 345.6L434.8 346.2L430.2 349.1L426.1 350.8L423.2 348.5Z" fill="#20FFDF" stroke="#000" stroke-width="0.5"/>
<path d="M423.8 344.4L426.1 341.7L430.8 340.6L437.8 341.5L441.6 343.3L440.1 344.7L434.3 344.8L429.6 347.1L426.7 348.5L424.9 347.1Z" fill="#9FFF60" stroke="#000" stroke-width="0.45"/>
<path d="M426.1 343.8L427.8 342.1L432.5 342.1L438.9 343.3L433.7 344.1L429 345.6L426.7 345.6Z" fill="#D8E820" stroke="#000" stroke-width="0.4"/>
<path d="M426.9 343.4L431.5 342.8" stroke="#E07000" stroke-width="0.9" fill="none"/>
<path d="M401.4 360.9L406.7 353.7L413.9 346.4L418.5 347.7L419.8 352.3L415.9 358.3L409.3 364.2L404.1 364.8Z" fill="#20FFDF" stroke="#000" stroke-width="0.5"/>
<path d="M403.2 360L407.5 354.1L413.4 348.2L417.2 349.2L418.3 353L415.1 357.9L409.7 362.7L405.3 363.3Z" fill="#9FFF60" stroke="#000" stroke-width="0.45"/>
<path d="M404.7 359.2L408.2 354.5L413 349.7L416 350.6L416.9 353.6L414.3 357.5L410 361.4L406.5 361.9Z" fill="#FFDF00" stroke="#000" stroke-width="0.4"/>
<path d="M406.3 358.5L408.9 354.9L412.6 351.2L414.9 351.9L415.5 354.2L413.6 357.2L410.3 360.1L407.6 360.4Z" fill="#FF7000" stroke="#000" stroke-width="0.4"/>
<path d="M407 360.6L409.8 355.2L415.6 350.3L414.8 354.2L410.6 359.6Z" fill="#EF0000" stroke="#000" stroke-width="0.4"/>
<path d="M393.5 371.4L396.8 367.5L402.7 366.8L406.7 370.1L406 375.4L402.7 379.3L402.7 384.6L399.4 389.8L395.5 387.9L394.2 380.6L393.5 375.4Z" fill="#20FFDF" stroke="#000" stroke-width="0.5"/>
<path d="M394.7 372.6L397.3 369.4L402.1 368.9L405.2 371.5L404.7 375.7L402.1 378.9L402.1 383.1L399.4 387.3L396.3 385.7L395.2 379.9L394.7 375.7Z" fill="#9FFF60" stroke="#000" stroke-width="0.45"/>
<path d="M395.9 373.7L397.9 371.3L401.4 371L403.8 372.9L403.4 376.1L401.4 378.5L401.4 381.6L399.4 384.8L397.1 383.6L396.3 379.2L395.9 376.1Z" fill="#FFDF00" stroke="#000" stroke-width="0.4"/>
<path d="M396.2 372.5L398.5 369.3L402.5 369L404 371.5L402 374.5L398.5 375.5Z" fill="#FF7000" stroke="#000" stroke-width="0.4"/>
<path d="M398.2 372.3L399.4 370.7L401.4 370.5L402.1 371.8L401.1 373.3L399.4 373.8Z" fill="#EF0000" stroke="#000" stroke-width="0.3"/>
<path d="M397.3 378.5L399.5 378L400 383L398.8 387L397 384.5Z" fill="#FF9000" stroke="#000" stroke-width="0.3"/>
<path d="M396.8 407.1C397.3 406 398.2 405.9 398.8 406.2C399.3 406.5 399.8 407.7 400.1 409.1C400.4 410.5 400.4 412.7 400.8 414.4C401.1 416 402.3 417.9 402.1 419C401.9 420.1 400.3 420.9 399.4 420.9C398.6 420.9 397.8 420.3 397.2 419C396.7 417.7 396.2 415 396.2 413.1C396.1 411.1 396.4 408.3 396.8 407.1Z" fill="#20FFDF" stroke="#000" stroke-width="0.5"/>
<path d="M400.8 431.5C400.8 430.5 403 428.8 404.1 428.8C405.1 428.8 406.4 430.4 407.3 431.5C408.3 432.6 408.8 434.5 410 435.4C411.2 436.3 413.5 435.9 414.6 436.7C415.7 437.6 416.7 439.6 416.6 440.7C416.4 441.8 414.9 443.3 413.9 443.3C412.9 443.3 411.6 441.8 410.6 440.7C409.6 439.6 409.1 437.7 408 436.7C406.9 435.8 405.3 435.6 404.1 434.8C402.8 433.9 400.8 432.5 400.8 431.5Z" fill="#20FFDF" stroke="#000" stroke-width="0.5"/>
<circle cx="403.8" cy="431.5" r="0.7" fill="#106050"/>
<path d="M432.3 446.9l2.6 2.6l-2.6 2.6l-2.6 -2.6z" fill="#20FFDF" stroke="#000" stroke-width="0.5"/>
<path d="M478 343.8L475.7 340.3L469.8 338.6L461.7 339.8L456.4 341.5L455.2 343.8L458.2 345.6L465.2 346.2L469.8 349.1L473.9 350.8L476.8 348.5Z" fill="#20FFDF" stroke="#000" stroke-width="0.5"/>
<path d="M476.2 344.4L473.9 341.7L469.2 340.6L462.2 341.5L458.4 343.3L459.9 344.7L465.7 344.8L470.4 347.1L473.3 348.5L475.1 347.1Z" fill="#9FFF60" stroke="#000" stroke-width="0.45"/>
<path d="M473.9 343.8L472.2 342.1L467.5 342.1L461.1 343.3L466.3 344.1L471 345.6L473.3 345.6Z" fill="#D8E820" stroke="#000" stroke-width="0.4"/>
<path d="M473.1 343.4L468.5 342.8" stroke="#E07000" stroke-width="0.9" fill="none"/>
<path d="M498.6 360.9L493.3 353.7L486.1 346.4L481.5 347.7L480.2 352.3L484.1 358.3L490.7 364.2L495.9 364.8Z" fill="#20FFDF" stroke="#000" stroke-width="0.5"/>
<path d="M496.8 360L492.5 354.1L486.6 348.2L482.8 349.2L481.7 353L484.9 357.9L490.3 362.7L494.7 363.3Z" fill="#9FFF60" stroke="#000" stroke-width="0.45"/>
<path d="M495.3 359.2L491.8 354.5L487 349.7L484 350.6L483.1 353.6L485.7 357.5L490 361.4L493.5 361.9Z" fill="#FFDF00" stroke="#000" stroke-width="0.4"/>
<path d="M493.7 358.5L491.1 354.9L487.4 351.2L485.1 351.9L484.5 354.2L486.4 357.2L489.7 360.1L492.4 360.4Z" fill="#FF7000" stroke="#000" stroke-width="0.4"/>
<path d="M493 360.6L490.2 355.2L484.4 350.3L485.2 354.2L489.4 359.6Z" fill="#EF0000" stroke="#000" stroke-width="0.4"/>
<path d="M506.5 371.4L503.2 367.5L497.3 366.8L493.3 370.1L494 375.4L497.3 379.3L497.3 384.6L500.6 389.8L504.5 387.9L505.8 380.6L506.5 375.4Z" fill="#20FFDF" stroke="#000" stroke-width="0.5"/>
<path d="M505.3 372.6L502.7 369.4L497.9 368.9L494.8 371.5L495.3 375.7L497.9 378.9L497.9 383.1L500.6 387.3L503.7 385.7L504.8 379.9L505.3 375.7Z" fill="#9FFF60" stroke="#000" stroke-width="0.45"/>
<path d="M504.1 373.7L502.1 371.3L498.6 371L496.2 372.9L496.6 376.1L498.6 378.5L498.6 381.6L500.6 384.8L502.9 383.6L503.7 379.2L504.1 376.1Z" fill="#FFDF00" stroke="#000" stroke-width="0.4"/>
<path d="M503.8 372.5L501.5 369.3L497.5 369L496 371.5L498 374.5L501.5 375.5Z" fill="#FF7000" stroke="#000" stroke-width="0.4"/>
<path d="M501.8 372.3L500.6 370.7L498.6 370.5L497.9 371.8L498.9 373.3L500.6 373.8Z" fill="#EF0000" stroke="#000" stroke-width="0.3"/>
<path d="M502.7 378.5L500.5 378L500 383L501.2 387L503 384.5Z" fill="#FF9000" stroke="#000" stroke-width="0.3"/>
<path d="M503.2 407.1C502.7 406 501.8 405.9 501.2 406.2C500.7 406.5 500.2 407.7 499.9 409.1C499.6 410.5 499.6 412.7 499.2 414.4C498.9 416 497.7 417.9 497.9 419C498.1 420.1 499.7 420.9 500.6 420.9C501.4 420.9 502.2 420.3 502.8 419C503.3 417.7 503.8 415 503.8 413.1C503.9 411.1 503.6 408.3 503.2 407.1Z" fill="#20FFDF" stroke="#000" stroke-width="0.5"/>
<path d="M499.2 431.5C499.2 430.5 497 428.8 495.9 428.8C494.9 428.8 493.6 430.4 492.7 431.5C491.7 432.6 491.2 434.5 490 435.4C488.8 436.3 486.5 435.9 485.4 436.7C484.3 437.6 483.3 439.6 483.4 440.7C483.6 441.8 485.1 443.3 486.1 443.3C487.1 443.3 488.4 441.8 489.4 440.7C490.4 439.6 490.9 437.7 492 436.7C493.1 435.8 494.7 435.6 495.9 434.8C497.2 433.9 499.2 432.5 499.2 431.5Z" fill="#20FFDF" stroke="#000" stroke-width="0.5"/>
<circle cx="496.2" cy="431.5" r="0.7" fill="#106050"/>
<path d="M467.7 446.9l2.6 2.6l-2.6 2.6l-2.6 -2.6z" fill="#20FFDF" stroke="#000" stroke-width="0.5"/>
<path d="M443 449.9L449.5 447.3L456.5 449.9L449.5 452.5Z" fill="#20FFDF" stroke="#000" stroke-width="0.5"/>
<circle cx="449.7" cy="449.9" r="0.7" fill="#106050"/>
<path d="M437.5 378.5L461.9 378.5L466.5 383.1L466.5 408.7L461.9 413.3L437.5 413.3L432.9 408.7L432.9 383.1Z" fill="#08A8FF" stroke="#023" stroke-width="0.5"/>
<path d="M438.2 379.6L461.2 379.6L465.4 383.8L465.4 408L461.2 412.2L438.2 412.2L434 408L434 383.8Z" fill="#20FFDF" stroke="#044" stroke-width="0.4"/>
<path d="M438.8 380.7L460.6 380.7L464.4 384.5L464.4 407.3L460.6 411.1L438.8 411.1L435 407.3L435 384.5Z" fill="#58C868" stroke="#242" stroke-width="0.4"/>
<path d="M439.2 381.9L460.2 381.9L463.4 385.1L463.4 406.7L460.2 409.9L439.2 409.9L436 406.7L436 385.1Z" fill="#A0B830" stroke="#442" stroke-width="0.4"/>
<path d="M439.7 383.5L459.7 383.5L462.3 386.1L462.3 405.7L459.7 408.3L439.7 408.3L437.1 405.7L437.1 386.1Z" fill="#FF8000" stroke="#531" stroke-width="0.4"/>
<path d="M437.7 391.6L442.9 387.4L447.1 389.7L447.6 395.9L447.1 402.1L442.9 404.4L437.7 400.2Z" fill="#E81000" stroke="#400" stroke-width="0.4"/>
<path d="M438.2 395.9L444.8 391.1L444.8 401.1Z" fill="#9A0A0A" stroke="#300" stroke-width="0.4"/>
<path d="M461.7 391.6L456.5 387.4L452.3 389.7L451.8 395.9L452.3 402.1L456.5 404.4L461.7 400.2Z" fill="#E81000" stroke="#400" stroke-width="0.4"/>
<path d="M461.2 395.9L454.6 391.1L454.6 401.1Z" fill="#9A0A0A" stroke="#300" stroke-width="0.4"/>
<ellipse cx="449.7" cy="395.9" rx="1.7" ry="4.6" fill="#50B848" stroke="#C8A020" stroke-width="0.6"/>
</g>
<text x="441.3" y="326.9" font-size="12.5" font-family="'Liberation Sans',Arial,sans-serif" font-style="italic" fill="#fff">H</text>
<text x="441.5" y="377" font-size="12.5" font-family="'Liberation Sans',Arial,sans-serif" font-style="italic" fill="#fff">F</text>
<text x="359.6" y="483.4" font-size="11.5" font-family="'Liberation Serif','Times New Roman',serif" font-weight="bold" fill="#fff">(d)</text>
<text x="384" y="483.4" font-size="14.5" font-family="'Liberation Serif','Times New Roman',serif" font-style="italic" fill="#fff">I</text>
<text x="389.3" y="490" font-size="11.5" font-family="'Liberation Serif','Times New Roman',serif" font-style="italic" fill="#fff">T</text>
<text x="396" y="483.4" font-size="14.5" font-family="'Liberation Serif','Times New Roman',serif" fill="#fff">(</text>
<text x="403.5" y="483.4" font-size="14.5" font-family="'Liberation Serif','Times New Roman',serif" font-weight="bold" fill="#fff">k</text>
<text x="410.8" y="483.4" font-size="14.5" font-family="'Liberation Serif','Times New Roman',serif" fill="#fff">): E−field intensity</text>
<rect x="353.8" y="297.5" width="192.2" height="197" fill="none" stroke="#000" stroke-width="0.6"/>
<path d="M402 494.5v-2 M402 297.5v2M450 494.5v-2 M450 297.5v2M498 494.5v-2 M498 297.5v2M353.8 346.8h2 M546 346.8h-2M353.8 396h2 M546 396h-2M353.8 445.2h2 M546 445.2h-2" stroke="#000" stroke-width="0.6" fill="none"/>
<text x="351" y="302.3" font-size="12" font-family="'Liberation Serif','Times New Roman',serif" text-anchor="end">0.2</text>
<text x="351" y="351.6" font-size="12" font-family="'Liberation Serif','Times New Roman',serif" text-anchor="end">0.1</text>
<text x="351" y="400.8" font-size="12" font-family="'Liberation Serif','Times New Roman',serif" text-anchor="end">0</text>
<text x="351" y="450.1" font-size="12" font-family="'Liberation Serif','Times New Roman',serif" text-anchor="end">−0.1</text>
<text x="351" y="499.3" font-size="12" font-family="'Liberation Serif','Times New Roman',serif" text-anchor="end">−0.2</text>
<text x="350.5" y="509" font-size="12" font-family="'Liberation Serif','Times New Roman',serif" text-anchor="middle">−0.2</text>
<text x="398.5" y="509" font-size="12" font-family="'Liberation Serif','Times New Roman',serif" text-anchor="middle">−0.1</text>
<text x="449.5" y="509" font-size="12" font-family="'Liberation Serif','Times New Roman',serif" text-anchor="middle">0</text>
<text x="497.5" y="509" font-size="12" font-family="'Liberation Serif','Times New Roman',serif" text-anchor="middle">0.1</text>
<text x="545.5" y="509" font-size="12" font-family="'Liberation Serif','Times New Roman',serif" text-anchor="middle">0.2</text>
<rect x="561" y="297.5" width="20.5" height="197" fill="url(#jet)" stroke="#000" stroke-width="0.5"/>
<text x="585" y="302.3" font-size="12" font-family="'Liberation Serif','Times New Roman',serif">−3</text>
<text x="585" y="349" font-size="12" font-family="'Liberation Serif','Times New Roman',serif">−4</text>
<text x="585" y="395.7" font-size="12" font-family="'Liberation Serif','Times New Roman',serif">−5</text>
<text x="585" y="442.4" font-size="12" font-family="'Liberation Serif','Times New Roman',serif">−6</text>
<text x="585" y="489.1" font-size="12" font-family="'Liberation Serif','Times New Roman',serif">−7</text>
<path d="M561 298.3h2 M581.5 298.3h-2M561 345h2 M581.5 345h-2M561 391.7h2 M581.5 391.7h-2M561 438.4h2 M581.5 438.4h-2M561 485.1h2 M581.5 485.1h-2" stroke="#000" stroke-width="0.6" fill="none"/>
<text x="425.8" y="518.9" font-size="13" font-family="'Liberation Serif','Times New Roman',serif" font-style="italic">k</text>
<text x="431.7" y="526.2" font-size="10.5" font-family="'Liberation Serif','Times New Roman',serif" font-style="italic">x</text>
<text x="437.4" y="518.9" font-size="13" font-family="'Liberation Serif','Times New Roman',serif" font-style="italic">v</text>
<text x="443.7" y="526.2" font-size="10.5" font-family="'Liberation Serif','Times New Roman',serif" font-style="italic">th</text>
<text x="451.8" y="518.9" font-size="13" font-family="'Liberation Serif','Times New Roman',serif">/</text>
<text x="455" y="518.9" font-size="14" font-family="'Liberation Serif','Times New Roman',serif">ω</text>
<text x="466.7" y="526.2" font-size="10.5" font-family="'Liberation Serif','Times New Roman',serif" font-style="italic">pe</text>
<g transform="translate(314.7,419.7) rotate(-90)">
<text x="0" y="0" font-size="13" font-family="'Liberation Serif','Times New Roman',serif" font-style="italic">k</text>
<text x="5.9" y="7.3" font-size="10.5" font-family="'Liberation Serif','Times New Roman',serif" font-style="italic">z</text>
<text x="11.6" y="0" font-size="13" font-family="'Liberation Serif','Times New Roman',serif" font-style="italic">v</text>
<text x="17.9" y="7.3" font-size="10.5" font-family="'Liberation Serif','Times New Roman',serif" font-style="italic">th</text>
<text x="26" y="0" font-size="13" font-family="'Liberation Serif','Times New Roman',serif">/</text>
<text x="29.2" y="0" font-size="14" font-family="'Liberation Serif','Times New Roman',serif">ω</text>
<text x="40.9" y="7.3" font-size="10.5" font-family="'Liberation Serif','Times New Roman',serif" font-style="italic">pe</text>
</g>
</svg>
</body></html>
